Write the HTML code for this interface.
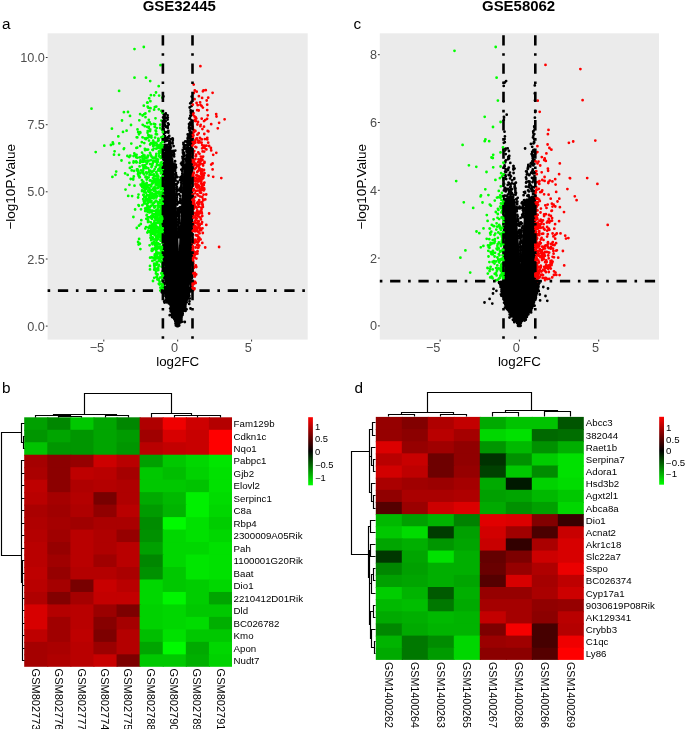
<!DOCTYPE html>
<html><head><meta charset="utf-8"><title>Figure</title>
<style>html,body{margin:0;padding:0;background:#fff}svg{display:block;will-change:transform}text{font-family:"Liberation Sans", sans-serif}</style>
</head><body>
<svg width="685" height="729" viewBox="0 0 685 729">
<defs>
<linearGradient id="lg" x1="0" y1="0" x2="0" y2="1"><stop offset="0" stop-color="#ff0000"/><stop offset="0.5" stop-color="#000000"/><stop offset="1" stop-color="#00ff00"/></linearGradient>
<clipPath id="ca"><rect x="47.6" y="33.3" width="260.1" height="306.3"/></clipPath>
<clipPath id="cc"><rect x="379.8" y="33.3" width="279.2" height="306.3"/></clipPath>
</defs>
<rect width="685" height="729" fill="#fff"/>
<text x="1.9" y="29.4" font-size="15.3">a</text>
<text x="353.6" y="29.4" font-size="15.3">c</text>
<text x="1.9" y="393.3" font-size="15.3">b</text>
<text x="354.6" y="393.3" font-size="15.3">d</text>
<rect x="47.6" y="33.3" width="260.1" height="306.3" fill="#ebebeb"/>
<g clip-path="url(#ca)">
<path d="M177.5 325.6L176.8 322.9L176 320.3L175.1 317.6L174.3 315L173.6 312.3L172.8 309.7L172 307.1L171.3 304.4L170.5 301.8L169.7 299.1L168.9 296.5L168 293.8L167.2 291.2L167.2 291.2L166.3 287.9L165.5 284.7L164.6 281.5L163.9 278.2L163.1 275L162.5 271.8L162.5 268.5L162.5 265.3L162.5 262L162.5 258.8L162.5 255.6L162.5 252.3L162.5 249.1L162.5 245.9L162.5 242.6L162.5 239.4L162.5 236.2L162.5 232.9L162.5 229.7L162.5 226.4L162.5 223.2L162.5 220L162.5 216.7L162.5 213.5L162.5 210.3L162.5 207L162.5 203.8L162.5 200.5L162.5 197.3L162.5 194.1L162.5 190.8L162.5 187.6L162.5 184.4L162.5 181.1L162.5 177.9L162.5 174.7L162.5 171.4L162.5 168.2L162.5 164.9L173.9 164.9L174.2 168.2L174.4 171.4L174.6 174.7L174.9 177.9L175.1 181.1L175.3 184.4L175.5 187.6L175.7 190.8L176 194.1L176.2 197.3L176.3 200.5L176.5 203.8L176.7 207L176.9 210.3L177.1 213.5L177.3 216.7L177.4 220L177.6 223.2L177.8 226.4L177.9 229.7L178.1 232.9L178.2 236.2L178.4 239.4L178.5 242.6L178.7 245.9L178.8 249.1L177.7 252.3L177.7 255.6L177.7 258.8L177.7 262L177.7 265.3L177.7 268.5L177.7 271.8L177.7 275L177.7 278.2L177.7 281.5L177.7 284.7L177.7 287.9L177.7 291.2L177.7 291.2L177.7 293.8L177.7 296.5L177.7 299.1L177.7 301.8L177.7 304.4L177.7 307.1L177.7 309.7L177.7 312.3L177.7 315L177.7 317.6L177.7 320.3L177.7 322.9L177.7 325.6ZM177.8 325.6L178.6 322.9L179.4 320.3L180.2 317.6L181 315L181.8 312.3L182.6 309.7L183.3 307.1L184.1 304.4L184.8 301.8L185.7 299.1L186.5 296.5L187.3 293.8L188.2 291.2L188.2 291.2L189 287.9L189.9 284.7L190.7 281.5L191.5 278.2L192.3 275L192.9 271.8L192.9 268.5L192.9 265.3L192.9 262L192.9 258.8L192.9 255.6L192.9 252.3L192.9 249.1L192.9 245.9L192.9 242.6L192.9 239.4L192.9 236.2L192.9 232.9L192.9 229.7L192.9 226.4L192.9 223.2L192.9 220L192.9 216.7L192.9 213.5L192.9 210.3L192.9 207L192.9 203.8L192.9 200.5L192.9 197.3L192.9 194.1L192.9 190.8L192.9 187.6L192.9 184.4L192.9 181.1L192.9 177.9L192.9 174.7L192.9 171.4L192.9 168.2L192.9 164.9L183.8 164.9L183.6 168.2L183.3 171.4L183.1 174.7L182.9 177.9L182.6 181.1L182.4 184.4L182.2 187.6L182 190.8L181.8 194.1L181.6 197.3L181.4 200.5L181.2 203.8L181 207L180.8 210.3L180.6 213.5L180.5 216.7L180.3 220L180.1 223.2L180 226.4L179.8 229.7L179.6 232.9L179.5 236.2L179.3 239.4L179.2 242.6L179 245.9L178.9 249.1L177.7 252.3L177.7 255.6L177.7 258.8L177.7 262L177.7 265.3L177.7 268.5L177.7 271.8L177.7 275L177.7 278.2L177.7 281.5L177.7 284.7L177.7 287.9L177.7 291.2L177.7 291.2L177.7 293.8L177.7 296.5L177.7 299.1L177.7 301.8L177.7 304.4L177.7 307.1L177.7 309.7L177.7 312.3L177.7 315L177.7 317.6L177.7 320.3L177.7 322.9L177.7 325.6Z" fill="#000"/>
<path d="M185.3 305.6h0M180.3 319.6h0M189.1 292.8h0M167 294.4h0M173.4 309.6h0M171.2 308.8h0M167.1 295.3h0M185.5 301h0M182.4 314.8h0M182.3 314.3h0M174.6 316.6h0M170.2 301.5h0M188.3 289.9h0M168.7 294.9h0M177.1 322.6h0M173.2 314h0M170.3 299.7h0M167.7 291.9h0M174.8 317.1h0M185.2 299.1h0M186.9 294.6h0M172.6 302.3h0M181.1 316.1h0M188.5 288.9h0M185.6 299.9h0M173 311.6h0M173.7 307.1h0M168.4 301.7h0M183.6 306.6h0M172.1 308.1h0M178.3 322.7h0M169.9 301.8h0M167.8 294.4h0M180.4 316.4h0M172.5 309.8h0M170 304.2h0M185.3 299.8h0M187.7 290.5h0M180.7 322.3h0M187.5 294.4h0M185.9 298.1h0M165.6 292.8h0M169.1 298h0M180.2 317.8h0M182.3 312h0M186.6 295.4h0M166.6 290.3h0M180.2 318.7h0M180.4 315.7h0M178.4 323.3h0M170.9 304.6h0M174.1 316h0M189.1 290h0M169.7 301.8h0M168.4 296.1h0M174.1 316.4h0M173.1 309.8h0M169.7 298.7h0M168.6 298.9h0M178.4 318.1h0M181.7 314.4h0M166.2 297.3h0M175.4 313.5h0M185.5 304.5h0M180.2 314.3h0M187.2 295.5h0M182.5 315.1h0M172.7 314.1h0M170.8 300.2h0M168.8 292.9h0M171.2 300h0M171.2 306.5h0M167.9 302h0M171.6 305.6h0M174.4 316.5h0M173.4 313.4h0M173.2 312.9h0M183.8 306h0M187.4 288.9h0M175.8 324.2h0M185.1 293.4h0M172.9 313.9h0M177.8 323.7h0M183.8 304.7h0M187.6 291.7h0M169.1 296.4h0M172.9 310.2h0M168.1 293.4h0M186.2 294.4h0M182.1 314h0M170.7 300.6h0M179.9 322.6h0M174.7 315.9h0M188.6 289.2h0M183.8 307h0M170.4 304.2h0M180.4 314.4h0M187.8 291.5h0M169.6 303.1h0M182.9 305.7h0M174.4 312.7h0M174.6 316.5h0M184.1 300.6h0M168.9 289.6h0M186.7 291h0M166.6 302.3h0M173.3 313.7h0M189.5 288.1h0M183.9 306.4h0M175.1 314.1h0M179.5 321.7h0M188 295.2h0M172 304.7h0M166.7 295.6h0M173.1 309.7h0M180.3 318h0M186.2 298.6h0M167.7 288.4h0M179.2 325.5h0M170.5 299.4h0M188.8 288.5h0M187 293.4h0M186.9 296.6h0M189.2 288.9h0M168.4 295.2h0M182.7 313.8h0M174.2 315.7h0M185.7 297.9h0M168.4 297.1h0M186.6 295.5h0M177.7 325.3h0M168.3 292.2h0M167.6 290h0M187.3 295.8h0M171.8 309.4h0M187.2 299.6h0M169.7 315.2h0M186.5 294.5h0M172.4 309.3h0M182.7 305.1h0M172.1 316.1h0M184.4 304.3h0M178.1 322.8h0M171.5 305h0M179.3 319.9h0M181.1 312.9h0M186.6 299.9h0M172.1 317h0M183.9 307.8h0M188.5 293.2h0M167 291.2h0M189.5 301.3h0M172 313.7h0M186 297h0M176.5 323.3h0M168.7 295.7h0M175.3 319.7h0M166.8 289.5h0M179.2 322.8h0M177.9 323.1h0M177.3 324.6h0M165.9 291.1h0M174.9 314h0M172.1 305.2h0M182.7 313.7h0M186.1 299h0M182 315.3h0M176.6 316.1h0M165.4 295.9h0M169.3 294.2h0M186.1 293.9h0M175.1 318.8h0M165.2 293.8h0M185.1 296.7h0M177.8 322.2h0M170.5 301.9h0M186 297.7h0M186.5 292.7h0M190.4 290.5h0M175.6 320.6h0M180.5 316h0M172.1 305.7h0M167.1 297.6h0M186.7 302.3h0M168.3 293.4h0M186.7 296.9h0M185.7 302.6h0M180.5 313.4h0M180.8 314.2h0M192.5 288.9h0M162.9 290.6h0M173 309.2h0M168 290h0M167 301.4h0M185 303.4h0M186.2 295.1h0M185.5 295.9h0M172.1 305.2h0M190.1 289.9h0M183.8 305.9h0M168.7 294.4h0M188.4 291h0M188.8 290.2h0M188 292.2h0M178.6 317.7h0M165.9 288.8h0M183 307.4h0M184 307.4h0M178.8 318.3h0M167.3 294.5h0M172 305.5h0M186.6 291.2h0M186.4 300.7h0M172.9 308.4h0M184.6 303.9h0M172.8 309.1h0M167.4 294.9h0M165.7 289.3h0M166.1 291h0M165.8 288.3h0M177.9 320.3h0M169.1 292.4h0M176.4 322.2h0M167.9 290.8h0M184.5 304.2h0M167.7 293.3h0M180.8 311.3h0M169.1 294.3h0M182.5 306.5h0M173 307.6h0M167.6 291.7h0M166.4 290.5h0M165.3 288.7h0M184.3 300.6h0M174.9 315.4h0M181.3 318.5h0M172.4 311.2h0M183.6 306.7h0M185.7 292.4h0M172.5 305.6h0M173.4 312.4h0M168.2 292.6h0M167.8 298.7h0M182.5 310.3h0M182.6 310.5h0M165.8 299.6h0M181.1 311.5h0M187.2 292.5h0M184.5 301h0M184.8 301.2h0M188.1 292.5h0M186.2 298.1h0M171.1 306.8h0M185.2 296.6h0M179.6 320.1h0M168.1 294.7h0M187.1 299h0M168.7 295.3h0M180.7 317.2h0M183.5 304h0M187.8 293.4h0M170 301.1h0M173 308.4h0M172.7 308.1h0M166.4 288.1h0M185.8 300.4h0M184 301.2h0M173.1 313.4h0M186.8 294.6h0M189.2 303.9h0M173.8 317.5h0M188.1 290.1h0M172.2 305.5h0M191.2 288h0M188.6 291.7h0M168 295.2h0M185 299.9h0M164.5 302.5h0M172.3 310.5h0M184.9 303.5h0M171.6 302.9h0M181.6 317h0M178.5 324.1h0M177.5 322.3h0M186 300.8h0M166.6 288.2h0M165.8 289.5h0M183 306.5h0M189.3 288h0M168 288.7h0M185 302.3h0M186.9 290.9h0M180.5 317.2h0M185.3 292.9h0M189.7 298.5h0M188.1 293.3h0M167.2 292.5h0M165.3 289h0M185.5 296.5h0M165.7 290.8h0M165.7 290.8h0M178 321h0M185.8 296.5h0M184.1 302.6h0M184.6 302.3h0M179.4 320.7h0M175.3 310.5h0M168.6 297.3h0M182.4 309.4h0M185.8 295.6h0M171 309.6h0M167.7 291.8h0M175.3 321.2h0M185.5 301.2h0M169 296h0M169.3 301h0M172.6 311.4h0M186.5 294.9h0M172.2 302.4h0M174.7 314.5h0M186.8 297.3h0M172.2 306.7h0M173.7 318.1h0M170.2 303.1h0M183.9 305.6h0M172.2 308.8h0M184.3 300.8h0M170.8 302.3h0M174.4 313.3h0M176.2 314.2h0M172.8 304h0M183.4 308.9h0M188.3 289.3h0M176.8 322.6h0M169 292.7h0M182.5 308h0M185.3 302.7h0M187.3 294.2h0M186.6 294.6h0M165.7 290.8h0M182.2 310.7h0M169.3 296.9h0M184.8 322h0M186.6 291.1h0M172.2 309.4h0M173.9 309.9h0M187.8 290.1h0M184.9 299.5h0M171.8 306.7h0M187.9 292.1h0M169.5 299.3h0M186.3 297.5h0M166.6 293.3h0M167.5 296.9h0M170.6 304.3h0M185.2 302.7h0M169 295.8h0M167.7 289.2h0M187.4 295.2h0M173.1 310.8h0M185.2 303.1h0M181.2 308.6h0M170.1 308.6h0M164.7 290.3h0M180.9 315.6h0M181.4 316.8h0M173.8 308.7h0M163.6 293.3h0M172.6 302.6h0M171.1 299.5h0M182.7 303.1h0M172.2 307.8h0M173.4 312.6h0M169.8 298.5h0M186.3 300.7h0M189.6 290.5h0M170.6 302h0M188.6 288.9h0M174.3 314.2h0M169.4 297h0M190.2 288.1h0M166 289.5h0M185 300.4h0M186.2 296.6h0M182.7 311h0M169.4 297.1h0M181.7 313.7h0M188.7 289.3h0M183.9 309.2h0M166 290.7h0M187.4 289.2h0M172.7 308.7h0M171.2 306.4h0M164.2 301.5h0M186 300.4h0M172.4 309.4h0M170 301.8h0M173.2 310.8h0M174.2 315.4h0M173.2 312.7h0M183.2 305.6h0M187.4 291.1h0M174.9 314h0M172.2 312.7h0M171.9 307.3h0M180.3 318.5h0M168.6 296.1h0M188.2 291.6h0M183.3 304.8h0M187 297.1h0M168.8 295.2h0M184.6 307.6h0M186.4 297.2h0M167.9 293.5h0M187.9 291.3h0M187.9 291.7h0M170.1 300.6h0M165.6 290.5h0M170.9 310.4h0M190.5 308.5h0M167 291.3h0M189.4 288.8h0M175.3 315.7h0M187 296.4h0M179.8 317.6h0M185.7 292.2h0M175.2 319.8h0M188.4 290.2h0M183.7 305.3h0M173.5 312.4h0M186.8 296.4h0M185.4 306.9h0M186.6 296.6h0M183.6 308.7h0M168.6 294.3h0M173.3 312.7h0M174.4 314.2h0M184.2 303.5h0M184.8 299.2h0M183.9 302.3h0M172.3 309.3h0M179.8 321h0M186.6 297.6h0M184.7 300.4h0M171 304.4h0M168.2 288.7h0M170 303h0M175.5 318.7h0M187.7 293.3h0M183.2 311h0M183.3 306h0M170.6 305h0M185.4 298.7h0M167.8 294.7h0M168.7 294.8h0M188.4 291.2h0M188.3 295h0M181 313.1h0M176.7 320.9h0M170.3 300.4h0M167.4 292.6h0M191.4 288.1h0M183.7 304.1h0M171.5 299h0M181.4 311.9h0M173.8 308.5h0M170.4 303.9h0M179 321.6h0M174.3 311.9h0M184.7 301.4h0M183.3 301.3h0M186.3 297.5h0M185.4 298h0M166.1 290.7h0M170.9 306.3h0M183 305.4h0M183.9 303.8h0M171.1 304.1h0M183.3 309.4h0M168.4 290.1h0M186.3 297h0M185.2 306.2h0M188.5 289.8h0M167.1 291.7h0M179.3 320.5h0M182.3 307.1h0M188.1 294h0M186 298.9h0M182.4 310.9h0M189.6 288.4h0M167.9 295.8h0M175.9 314.9h0M186.7 297.2h0M184.4 301.6h0M183.5 306.9h0M168.5 293.3h0M169.6 296.6h0M186.7 298.6h0M171.2 304.1h0M171.4 304.1h0M175.6 318.3h0M185.6 299.7h0M181.8 312.5h0M181.2 307.4h0M167.6 290.2h0M183.6 305.5h0M171.2 306.7h0M170.9 307.3h0M179.3 318.1h0M181.5 319h0M170.2 301.1h0M183.8 306.9h0M166.9 288.4h0M168.1 292.5h0M166.4 292.7h0M183.8 304.8h0M182.1 311.2h0M189.6 290.1h0M184.5 308.4h0M172.9 305.5h0M171.7 305.4h0M165.5 293.7h0M172.1 313h0M168.7 303.3h0M185.2 300.8h0M176.2 322.4h0M189.3 295.8h0M188.5 293.6h0M170.1 299.8h0M170.8 305.6h0M173.7 311.1h0M176.2 313.7h0M187 291.2h0M189.1 288.8h0M184.9 304.2h0M184.6 296.5h0M183.9 299.8h0M183 308.5h0M179.4 310.5h0M189.2 289.7h0M185.5 302.8h0M181.9 302.9h0M166 289.5h0M161.8 292.3h0M175.5 323.2h0M186.6 309.3h0M167.6 292h0M187.4 294.4h0M168.7 298.9h0M166.9 291.1h0M173.6 312.9h0M186.1 294.1h0M176.3 323h0M185.5 310.9h0M168 299.3h0M182.2 311.3h0M172.3 308h0M180 317h0M187.2 296.5h0M174.6 315.8h0M169.5 298.3h0M185.1 306.3h0M190 290.8h0M174.4 319.3h0M170.5 299.3h0M188.2 294.7h0M188.1 289.3h0M170.6 311.3h0M182.2 310.9h0M168.8 299.5h0M185.4 296.7h0M185.3 300.6h0M184.7 306h0M182.9 310.4h0M176.9 321.9h0M188.1 298.6h0M184.4 305.9h0M185.5 299.4h0M181.8 310.9h0M178.1 324.2h0M186.8 299.6h0M181.5 311.6h0M187.1 295.1h0M167.3 289.4h0M176.3 325.7h0M181.6 312.9h0M187.8 295.3h0M169.2 299.5h0M169.7 297.8h0M187.7 295.1h0M172.8 313.1h0M183.2 304.4h0M189.8 291.6h0M163.9 291.1h0M179.8 318.7h0M185.3 302.6h0M185.9 295.1h0M179.9 320.2h0M184.5 301.6h0M168.3 297.2h0M185.5 299.9h0M177.3 321.3h0M167.3 295.1h0M187 299.2h0M183.7 303.1h0M183.6 306.6h0M185.9 296h0M186.1 299.4h0M184 305h0M169.6 298.2h0M184.2 306.7h0M171.5 301.8h0M168 296.9h0M184.3 298.3h0M188.8 294.1h0M183.6 307.1h0M172 306.6h0M185.8 297h0M168 295.7h0M185.5 299.7h0M182.1 321.7h0M169.9 303.4h0M169.5 297.8h0M166.8 289.4h0M166.6 291h0M176.2 324.6h0M189 288.2h0M185.2 301.5h0M166.6 289.6h0M168.9 299h0M171.4 309.9h0M167.9 291.2h0M171.3 304.4h0M177.1 324.2h0M179.6 321.7h0M166.1 292.4h0M168.5 295.7h0M173.9 314.5h0M184.7 306.3h0M172.4 304.8h0M172.8 307.6h0M188.4 289.2h0M188.7 289.6h0M170.8 304h0M185.5 298.6h0M166.5 294.5h0M169.1 295.6h0M186.1 297.6h0M166.2 293.4h0M167.2 293.7h0M168 294.1h0M167.9 294.9h0M189.6 289h0M185.8 299.1h0M189.3 289.5h0M180.9 313.2h0M182.5 310.5h0M171.8 301.5h0M167.9 291.1h0M182.1 308.1h0M167.7 296.6h0M181.3 313.1h0M169.7 300.5h0M185.4 297.5h0M175.9 319.7h0M167.2 290.6h0M168.8 294.2h0M167 293.4h0M169.6 294.4h0M181.7 315h0M188.5 298.1h0M168 291.7h0M178 325.4h0M172.4 303.9h0M167 290.7h0M184 299.8h0M182.5 312.2h0M174.4 314.1h0M172.4 302.9h0M187 291.3h0M184.5 298.6h0M176.3 320.7h0M186.5 299.3h0M172.7 308.5h0M172.6 305.6h0M176.5 319.8h0M170.1 300.9h0M185.5 292.8h0M170.7 304.5h0M167.9 294.9h0M173.4 304.2h0M174.2 318.4h0M173.6 307.4h0M182.4 309.8h0M184.9 305.2h0M174.5 310.6h0M172.8 304h0M175.1 314.5h0M186.9 292.3h0M186.7 295.5h0M177.3 320.8h0M177.8 325h0M177.2 322.9h0M177.7 322.2h0M177 324.8h0M177 326.1h0M177.2 324.7h0M178.5 322.8h0M176.8 324.5h0M177.1 325.4h0M177.8 325.1h0M177.3 323.2h0M176.9 326.1h0M178.4 325.7h0M177.1 325.5h0M177.7 323.6h0M177.5 325.7h0M178 324.5h0M177.5 325.7h0M178 326h0M177.7 324.9h0M177.1 323.6h0M177.3 325.3h0M178.3 323.6h0M177.6 325.7h0M177.1 325.7h0M177.9 325h0M177.7 325.3h0M178 325.9h0M178 325.5h0M178 325.6h0M175.9 325.5h0M177.9 324.5h0M177.8 323.3h0M178 322.9h0M178 322.4h0M178.4 325.6h0M177.6 323.9h0M177.3 323.6h0M176.5 325.6h0M176.8 325.3h0M177.3 325.3h0M176.2 325.2h0M177.3 324.6h0M177.2 324.8h0M178.3 323.7h0M177.6 325h0M178.2 326h0M177.9 325.6h0M177.3 324.6h0M176.9 325.2h0M177.6 324.7h0M178.3 324.6h0M177.4 324.7h0M177.4 325.3h0M176.8 324.6h0M177.3 324.6h0M177.6 325.7h0M179.1 323.6h0M177.2 324.7h0M163.6 188.9h0M192.2 286.7h0M192.4 248.5h0M163.3 173.8h0M191.9 272h0M163.1 286.6h0M164.3 185.4h0M163.5 190.6h0M191.7 228.5h0M192.1 275.3h0M191.3 254.2h0M163.9 235.1h0M191.8 169.6h0M163.1 264.2h0M164.5 207.8h0M191.4 201.9h0M190 181.3h0M191.7 206.1h0M163.9 243.9h0M163.8 235.4h0M164.2 231.2h0M192 216.9h0M163.2 224h0M191.7 278.2h0M192.3 193.6h0M191.5 245.2h0M163.2 212.3h0M191.1 251.9h0M163.4 234.7h0M164 165.5h0M166.2 289.4h0M190.8 210.5h0M163.8 267.4h0M163.1 170.7h0M191.6 187.6h0M164.3 186.1h0M164.3 185.4h0M163.3 247.8h0M163 227.3h0M163.3 174.8h0M191.2 231.7h0M169 172.5h0M189.8 188.4h0M191.6 229.5h0M164 224.6h0M192.3 225.5h0M164.6 257.3h0M167.4 247h0M191.3 237.2h0M191.8 223.9h0M163.2 180.6h0M191.9 230h0M163.8 220.7h0M163.2 201.9h0M163.5 190.3h0M191.6 168.4h0M191 197.9h0M165 215.6h0M191.8 200.7h0M192.1 275.8h0M164 197.9h0M190.4 263.5h0M163.3 180h0M163.2 181.1h0M163.4 211.9h0M192.4 172.8h0M163.3 284.7h0M163.1 281.6h0M192.2 228.6h0M191.2 266.1h0M190.7 288.4h0M192.1 170h0M163.6 238.3h0M163.3 185.1h0M190.7 255.1h0M163.8 211.4h0M191.5 282.5h0M191.3 213h0M191.8 202h0M163.2 213.3h0M192.3 230.5h0M163.2 198h0M163.5 262.7h0M164.6 206h0M163.5 255h0M191.7 282.9h0M163.8 243.9h0M191.1 196.2h0M169 270.3h0M163.2 193.3h0M163.8 246.1h0M163 229.1h0M192 282.4h0M192.3 270.1h0M192.3 207.1h0M163 175.8h0M191.7 257.5h0M163.4 204.3h0M192.4 180.1h0M190.8 184.4h0M189.7 171.1h0M163.4 277.5h0M191.9 206.8h0M163 254.4h0M190.9 285.8h0M191.4 228.2h0M163.8 170.3h0M191.8 247.6h0M191.1 258.1h0M163 166.1h0M164.7 206.4h0M163 271.3h0M163.2 288.6h0M191.5 280.8h0M163.3 280.8h0M164.6 179.3h0M192.4 202.5h0M192.4 268.2h0M191.6 236.5h0M192.4 234.5h0M163.7 182.1h0M164 168.3h0M163.3 290.1h0M191.9 287.8h0M164.2 213.8h0M191.1 284.3h0M163.5 238.9h0M191.8 210.7h0M167.6 226h0M192.1 267.7h0M163.2 255h0M163.8 223h0M192 271.9h0M192.4 173.8h0M163.9 259.2h0M191.7 184.5h0M191.3 266.4h0M191.7 228.1h0M189.9 187.7h0M164.2 207.3h0M192.3 274.1h0M163.5 258.6h0M191.7 242.8h0M164.8 227.4h0M192.2 169.3h0M190.9 247.1h0M163.4 245.6h0M192.1 223.3h0M192.4 262.4h0M163.6 186.3h0M191.8 291.2h0M192 196.4h0M190.4 175.8h0M164 249.4h0M192.3 194.7h0M192 199.5h0M163.2 192.9h0M191.2 207.2h0M163.8 222.2h0M163.9 255.4h0M167.6 237.5h0M163.7 276.6h0M191.5 210.9h0M163.8 226.2h0M191.4 282.8h0M191.9 277.2h0M192.3 249.8h0M191.8 266.4h0M191.7 266.4h0M190.8 193.5h0M191.9 249.8h0M190.9 283h0M163.2 175h0M163 170.8h0M190.9 186.8h0M191.7 234.1h0M163.4 169.4h0M164.2 176.6h0M163.4 209.4h0M191.1 203.2h0M191.8 200.1h0M192.2 222.1h0M167.5 180h0M192.3 182.1h0M165 196.2h0M163 201.9h0M191.3 232.4h0M163.9 248.6h0M163.1 169.2h0M163.8 218.1h0M163.7 172.5h0M166 263.1h0M192.4 270.3h0M190.5 198.1h0M192.4 207h0M164.3 238.7h0M163.2 225.8h0M165.4 173.9h0M164.8 205.3h0M163.2 221.7h0M192.2 255.8h0M192.1 269.8h0M190.5 243.3h0M190.5 252.7h0M191.2 202h0M192.3 165.9h0M192.2 182.5h0M163.1 255.6h0M164.2 253.2h0M163.2 215.7h0M192.2 184h0M163 252.7h0M192.3 255.7h0M191 230.8h0M164.4 193.8h0M164.1 233.7h0M164.3 289.5h0M163.5 204.5h0M191.7 179.1h0M163.2 203.8h0M162.9 287h0M164.2 256.9h0M162.9 225.1h0M192 228.5h0M190.4 281.2h0M190.9 255.2h0M163.4 240h0M163.2 227.6h0M163.3 167h0M163 200.6h0M164 224.5h0M163.5 290h0M162.9 287.1h0M163.3 193.4h0M165 219.7h0M164 205.9h0M190.7 275h0M191.3 168h0M190.8 226.3h0M163.9 218.7h0M191.8 205.1h0M190.3 211.3h0M164.1 191.8h0M192.3 264.7h0M165.2 283.4h0M163.1 237.8h0M163.5 192.7h0M191.4 195.9h0M191.9 242.1h0M192.4 196.9h0M191.6 193.3h0M163.9 190.8h0M191.3 169.8h0M164.5 232.8h0M191.4 199h0M163.9 175.6h0M163.6 254.5h0M163.2 166.9h0M190.5 248.5h0M163.7 207.2h0M167.5 273.8h0M163.1 267.2h0M186.9 279.7h0M191.3 210.6h0M192 287.9h0M191.4 230.2h0M167.8 197.3h0M164 256.9h0M166.6 266.8h0M192.4 169.6h0M163.7 265.5h0M192.1 217.3h0M167.2 232.7h0M192.4 176.8h0M192.2 211.5h0M163.9 230.3h0M164.6 259.1h0M162.9 185.4h0M164.3 251.6h0M190.9 188.8h0M163.8 203h0M192.2 221.3h0M192.4 165.4h0M163 209.8h0M190.9 215.7h0M191.6 202h0M163.3 270.1h0M163.7 235.7h0M164 291.2h0M163.5 274h0M164.8 286.8h0M192.2 218.8h0M163.6 250.1h0M192.4 269.3h0M163.6 240.7h0M163.6 171.2h0M163.9 284.1h0M192.4 277.1h0M165.2 180.5h0M163.4 263.7h0M174.1 154.2h0M175.9 172.9h0M178.9 220.6h0M177.8 213.8h0M178.9 227.6h0M184.1 154.7h0M180.3 195.8h0M184.1 154.9h0M182.1 179.5h0M182.7 158.6h0M183.4 162.3h0M180.4 191.2h0M177.5 212h0M180.3 198.7h0M175.8 184.7h0M172.5 138.4h0M180.1 209h0M182.9 164.3h0M179.6 212h0M182.6 174.6h0M174.6 164.4h0M178.9 237.4h0M181.9 165.1h0M173.4 151.1h0M183.8 147.5h0M175.3 150.6h0M176.8 199.5h0M178.3 222.9h0M177.3 203.5h0M182.8 149.9h0M181.9 170.3h0M176.4 187.3h0M178.7 236.9h0M178.9 230.3h0M181.6 182.3h0M173.5 150.9h0M182 176.8h0M177.2 201.6h0M178.9 236.9h0M179.2 216.5h0M175.7 176.3h0M180.3 208.4h0M175.9 184.1h0M178.9 233.5h0M181.8 183.8h0M180.6 191.7h0M178.9 235.3h0M184 155.9h0M183.8 159.2h0M178.4 226h0M176.2 175.2h0M173.7 152.1h0M181.1 186.5h0M181.7 162.7h0M178.2 225.2h0M178.5 231.5h0M178.5 214.1h0M175.1 161.2h0M177.4 208.7h0M184.1 153.6h0M178.9 230.8h0M180.8 189.5h0M176.5 194.1h0M182.4 156.8h0M182.2 170.9h0M181 163.6h0M177.5 177.1h0M178.6 221.8h0M183.6 161.9h0M183.3 165.9h0M175.8 164.8h0M176.6 191.8h0M176.9 195.4h0M178.9 222.8h0M174.1 156.4h0M178.9 194.2h0M172.5 142.6h0M178 210.5h0M176.3 189.4h0M179.5 202.5h0M175.7 177.1h0M185.3 141.4h0M179.2 215.4h0M180.5 199.2h0M178.9 208.1h0M178.9 228.1h0M179.1 233.9h0M172.8 138.8h0M177.1 204.6h0M174.6 167.2h0M183.5 159.6h0M175.4 173.8h0M178.4 211.1h0M175 170.8h0M184.7 145.9h0M181.1 192h0M184.6 148.8h0M182.9 151.9h0M183 160.8h0M174.6 168.3h0M172.6 142.1h0M180.9 187.6h0M173.6 146.1h0M178.9 228.7h0M174.7 167h0M178.2 225.7h0M180.8 200.7h0M181.2 179.3h0M182.6 168.6h0M181.3 169.6h0M178.1 219.7h0M178.4 228.6h0M179.7 223.3h0M181.9 176h0M178.9 219.7h0M184.1 146.4h0M175.2 169.9h0M180.5 207.5h0M175.7 174.8h0M178.9 230.2h0M180.4 177.4h0M178 222.1h0M175.1 174.6h0M180.4 209.7h0M177.9 182.5h0M183 167.7h0M177.9 215.6h0M178.5 231.7h0M179.4 223.3h0M183.4 154.2h0M183.4 142.9h0M182.1 180.2h0M178.9 229.1h0M175.4 178h0M177.5 203.8h0M179.1 220.3h0M183 163.3h0M173.7 151.5h0M181.5 184.4h0M182.2 180.4h0M172.6 143.4h0M178.8 237.2h0M183.6 152.3h0M184.8 145.1h0M183 153.1h0M181.1 182.7h0M184.2 148.9h0M176.6 188.1h0M180.3 200.9h0M181.7 188h0M178.9 233.2h0M178.9 234.5h0M181.5 185.9h0M181.4 178.9h0M178.6 230.6h0M175 161.6h0M179.2 222.5h0M177.9 216.3h0M181.5 190.2h0M183.2 160.5h0M181.5 188.9h0M184 148h0M183.5 162.2h0M177.9 181.6h0M174.3 151.1h0M180.8 203h0M180.1 179.9h0M182.3 173.5h0M178.7 228.4h0M179.9 211.3h0M172.8 139.9h0M180.4 207.1h0M184.5 147.1h0M178.9 232.4h0M179.8 212.6h0M177.6 214.4h0M178.9 237.3h0M175.2 165.5h0M178 214.2h0M181.9 179.3h0M178.9 227.9h0M175.6 180.5h0M179.8 188.3h0M177.3 190.6h0M183.6 159h0M179.9 202.6h0M175.7 166.4h0M183.4 157.3h0M178.9 213.2h0M180.4 207.9h0M175.6 176.6h0M178 219.3h0M178.9 237h0M182.3 177h0M176.1 167.5h0M178.9 226.8h0M182.2 180.8h0M178.3 190.3h0M176.8 186.7h0M183.5 144.4h0M178.9 233.2h0M178.9 219.1h0M178.5 229.3h0M176.4 175.9h0M173.5 151.8h0M176.8 184.1h0M178.9 234.3h0M176.4 187.5h0M178.9 226.5h0M178.4 228.9h0M180.5 207.3h0M173.6 152.9h0M175 168.3h0M172.4 139.6h0M177.4 189.6h0M178.9 219h0M179.9 201.4h0M178.9 229.1h0M177 197.7h0M182.2 177.6h0M171.7 162.4h0M164.4 163.5h0M191.3 164.4h0M192.2 133.7h0M187.1 149.8h0M190.2 103.3h0M163.1 126.6h0M172 166.7h0M186.4 160.9h0M187.9 147h0M167.2 156.7h0M191.2 138.1h0M185.3 168.6h0M188.2 162.8h0M168 137.7h0M163.4 165.7h0M167 153.6h0M168.8 165.5h0M168.9 153.6h0M188.1 163.5h0M170.6 165.4h0M190.7 134.6h0M169.2 135.9h0M167.3 146.5h0M190.7 152.8h0M189.8 153.7h0M189.2 156.7h0M190.5 163.3h0M172.3 166.6h0M167.6 115.3h0M167.7 126.1h0M189.6 142.7h0M190.4 122.3h0M188.2 160.9h0M163.4 96.4h0M191 148.3h0M190.4 151.9h0M165.3 159.5h0M185.4 164.5h0M169.9 166.1h0M168.7 153.8h0M167.3 165.1h0M189.7 144.9h0M167.8 170.2h0M164.6 156.5h0M189.9 166.6h0M189.1 134.6h0M192.1 114.4h0M163.9 146.8h0M165.1 117.9h0M190.7 143.3h0M189.1 123.8h0M167.1 151.3h0M164.9 124.7h0M191.9 158.3h0M190.1 164h0M185.6 159.2h0M189.2 167.4h0M163.1 117.4h0M171.5 164.7h0M167.2 171.3h0M190 132.6h0M188.7 162.9h0M191.7 164.6h0M191.2 153.4h0M169 151.7h0M164.3 119.8h0M170.2 161.5h0M168.1 169.6h0M170.8 159.1h0M164.6 153.4h0M187.1 152.4h0M186.6 151.5h0M172.2 159.9h0M191.2 147h0M165.5 159.6h0M165.5 153.1h0M163.7 168.9h0M189.9 165.2h0M187.6 138.3h0M189.1 124.3h0M186.6 150.5h0M186.6 155.7h0M171.6 162.1h0M167.2 117.7h0M169.1 148.9h0M165.7 137.8h0M168.9 168.6h0M165.1 160.2h0M189.6 124.1h0M192.4 132.7h0M190.3 152.5h0M189.4 118.6h0M167.4 131.9h0M187.8 160.6h0M190.5 165.2h0M190.6 110.3h0M163.8 146h0M165.8 150.6h0M191.9 122.4h0M169.8 163.4h0M163.5 155.3h0M171.9 160.5h0M190.1 161.1h0M172.2 170.8h0M191.7 159.6h0M167.7 127.9h0M190.3 164.8h0M187.3 170.6h0M164.7 124.6h0M189.5 151.7h0M170.7 168.3h0M188.1 135.1h0M191.7 168.3h0M168 150.7h0M169 152.6h0M165 169.8h0M165.4 161.1h0M190.9 165.8h0M190.5 158.2h0M191.7 139.6h0M164.4 146.9h0M167.3 169.3h0M191.5 120.2h0M192 125.2h0M168 123.3h0M169.2 163.3h0M191.7 96.6h0M190 154.6h0M165.8 113.5h0M167.7 159.4h0M169.3 162.2h0M169.8 143.9h0M170.5 159.9h0M163.3 165.9h0M171 168.4h0M170.7 162.7h0M187.9 170.2h0M187.7 140.3h0M170.5 170.9h0M163.7 157.3h0M188.1 170.6h0M167.6 157.4h0M190.5 139.6h0M191.2 155h0M165.5 169.6h0M165.5 157.6h0M187.9 167.8h0M189.5 160.3h0M172.3 165.2h0M190 117.8h0M167.8 156.6h0M190.9 171.5h0M168.4 148.6h0M189.7 107.5h0M190.1 162.2h0M168.1 137.2h0M169.1 151.8h0M191.7 159.6h0M165.6 132.5h0M192 170.4h0M192.4 163h0M186.9 145.2h0M164.7 145.9h0M189.5 168.3h0M186.5 151.5h0M191.6 106.1h0M188.3 169.2h0M165.5 147h0M172 168.5h0M186.6 158h0M189.7 165.8h0M167.5 154.3h0M187.4 148.1h0M167.2 159h0M190.7 169h0M165.5 132.3h0M165.4 161.5h0M189 128h0M163.3 164.1h0M185.9 171.1h0M172.4 171.1h0M189.9 168.2h0M164.5 170.5h0M164.1 154.1h0M188.7 168.2h0M188.1 169.2h0M189.7 169.4h0M171.3 158.1h0M191.2 115.5h0M172 159h0M172.5 165.1h0M167.8 168h0M190.9 112.9h0M188.1 169.5h0M170.7 167h0M191.3 144.4h0M167.4 168.7h0M170.2 161.3h0M190.7 112.1h0M190 158.3h0M192.1 150h0M164.8 165.6h0M186.5 170.6h0M171.1 156.7h0M165.8 149h0M172.1 166.4h0M190.7 159.7h0M185.4 169.6h0M170.4 171.6h0M171.2 155.6h0M172.7 168.7h0M170.1 155.6h0M187.1 170.9h0M165.4 167.6h0M168 154.4h0M191.6 156.4h0M165.7 121.3h0M190.1 123.2h0M165.4 147.6h0M189.5 157.3h0M188 170.1h0M191 132.5h0M190.7 168h0M191.4 157.7h0M187.7 150.8h0M190.3 135.8h0M189.6 149.2h0M190.9 167.7h0M168.4 131h0M170.4 163.5h0M190 165.4h0M164.2 163h0M164.1 138.7h0M186 158.6h0M168.8 164.2h0M188.7 153.3h0M190.6 158.1h0M188.7 167.3h0M187.3 158.5h0M172.8 166.9h0M191.9 165.2h0M191.4 167.8h0M165.7 139.4h0M167.1 163h0M164.9 120.8h0M169.6 164.5h0M188.5 149h0M168.3 162.8h0M168.5 137.9h0M167.8 161.1h0M189.7 128.9h0M168.5 155.3h0M185.3 167.8h0M190.7 149h0M190.2 162.7h0M164.5 171.5h0M171 163.6h0M165.7 126.8h0M190.5 161.4h0M165.5 170.8h0M189.8 148.2h0M188.8 167.4h0M192.3 166.5h0M189 159.5h0M192.2 165.5h0M168.9 171h0M170.4 163.4h0M190 131.6h0M165.1 159.8h0M167.8 149h0M164.2 131.8h0M191.1 128.1h0M189.5 164h0M190.4 162.2h0M170.7 168.9h0M170.2 153.6h0M164.5 149.3h0M172.3 166.9h0M171.7 158.4h0M185.4 171.4h0M169.7 170.6h0M172.3 170.7h0M170.5 154.5h0M189.8 168.2h0M190.3 115.6h0M168.1 149.4h0M167.4 155.2h0M192.3 111.4h0M189.7 134.2h0M167.8 117.7h0M191 150.9h0M188.5 138.5h0M164.8 159.1h0M169.9 143h0M171.5 151h0M164.1 168.1h0M190.8 123.9h0M172.1 167.5h0M188.5 144.4h0M190.6 171.3h0M163.9 159.9h0M185.8 167.9h0M189.5 169.1h0M170.7 158.1h0M168.1 167.7h0M186.7 162.9h0M187.6 143.6h0M187.9 169.4h0M189.9 165.7h0M167.4 145h0M167.7 158.4h0M189.8 130.6h0M189.6 142.9h0M169.7 141.2h0M167.6 138.9h0M187.2 145.7h0M170.6 148.1h0M171 169.7h0M185.1 166.9h0M186.1 167.5h0M189.2 150.2h0M172.6 166.1h0M163.1 150.9h0M190.3 156.8h0M169.9 154.7h0M165.2 137.6h0M171.5 170.8h0M163 151h0M189.9 169.3h0M167.1 126.4h0M188.9 165h0M188.8 155.3h0M164 158.2h0M165.6 146.8h0M171 154.4h0M171.7 161.9h0M163.7 114.5h0M187.9 158.2h0M190.3 133h0M167.6 168.4h0M187.4 167.2h0M165 165.2h0M165.3 156.7h0M187.1 146.2h0M164.5 115.8h0M191.9 158.9h0M189.5 165.1h0M187.4 157h0M187.6 160h0M164.1 159.7h0M190.5 168.4h0M170 157.7h0M190.2 145.2h0M189.3 141.1h0M164.3 152.8h0M171.2 152.9h0M172.1 159.5h0M162.9 153.7h0M189 134.9h0M187.4 158.8h0M191.1 164.2h0M191.8 138.4h0M190.6 150.4h0M187.2 155.1h0M170.1 156.1h0M170.7 158.9h0M170.5 139.1h0M187.1 142.2h0M169 168.7h0M191.5 102.7h0M171.6 165.5h0M186.5 148.5h0M188.3 141.2h0M171.8 165.2h0M187.9 137.5h0M188.6 143.2h0M170.3 161.3h0M186.7 155.3h0M185.7 168.9h0M172.8 170.4h0M188.9 169.5h0M172.1 165h0M190.7 161h0M191.8 144.5h0M187.7 150.9h0M187.9 149.4h0M165.1 162.3h0M168.1 167.9h0M170.9 147.7h0M163.3 139.8h0M186.9 145.7h0M191.5 102h0M188.8 135.8h0M164.8 153.1h0M169.7 141.3h0M189.5 168.7h0M168.9 171.6h0M169.1 164.6h0M190 144.2h0M169 166.9h0M170.2 162.2h0M168.4 156.9h0M185.9 170.2h0M187 152.6h0M167.9 167.2h0M190.5 133h0M189.7 142.4h0M189.4 168.3h0M190 170.7h0M189 138.3h0M163.1 170h0M169.4 148h0M170.5 164.6h0M170.6 169.9h0M172.6 166.8h0M192.4 149h0M191.2 164.2h0M192.2 167.7h0M189.4 153.7h0M163.6 118.2h0M164.2 139h0M186.8 165.3h0M164.7 115.9h0M185.1 171.2h0M164.7 170.1h0M188.2 162.1h0M164.4 169.8h0M167.2 159.8h0M189.9 165.6h0M189.1 137.2h0M190.6 168.2h0M187.7 151.7h0M189.6 134.6h0M165.8 166.2h0M165.4 170.3h0M172.1 165.5h0M191.9 142.7h0M170.1 151.8h0M191.4 171.5h0M189.8 163h0M163 121h0M171.5 158.1h0M165.6 141.2h0M189.5 155.9h0M171.2 166.1h0M190.8 141.5h0M189.2 161.2h0M164 155h0M191.3 150.2h0M189.4 130.4h0M188.1 160.1h0M170.6 166.2h0M164.9 155.5h0M164.3 164.3h0M191 146.2h0M187.7 134.4h0M167.4 162.1h0M172.7 168.5h0M163 167h0M163.9 169.1h0M169.5 163.9h0M187.9 167.5h0M185.6 170.5h0M189.6 169.6h0M190.5 167.3h0M165.2 161.7h0M187.4 148.2h0M190.5 144.7h0M189.8 168.6h0M164.1 141.9h0M171.8 155.2h0M189.1 166.7h0M169.4 152.6h0M189.8 163.8h0M189.7 165.2h0M190.2 131.3h0M192.2 150.2h0M167.4 170.1h0M187.9 161.9h0M192 165.7h0M188.2 159.9h0M164.1 131.3h0M165.1 166.4h0M189.2 126.6h0M169.6 162.4h0M169.9 152.9h0M163.2 145.6h0M168.8 161.8h0M163.5 129.8h0M164.6 119.7h0M164.9 161.8h0M169.3 143h0M168.6 149.2h0M164.5 169.3h0M165.5 166.6h0M163.6 166.2h0M190.4 170.7h0M165.5 156.1h0M164.4 122.4h0M168.3 132.7h0M186.4 161.9h0M167.8 171h0M165.8 146.7h0M191.3 165.1h0M187.3 162.4h0M187.5 159.3h0M163.4 141.6h0M167.5 140.6h0M168.4 160.8h0M165 136.2h0M171.9 155.6h0M171.5 170.8h0M191.8 146.4h0M170 143.6h0M163.6 169.6h0M163.6 163.9h0M168.7 124.4h0M167.7 152.2h0M169.3 150.7h0M165.2 145h0M192.1 135.4h0M187.3 171.3h0M170.9 156.3h0M163.4 159.5h0M191.3 125.1h0M163.7 129.1h0M189.3 170.9h0M185.5 170.9h0M188.7 155.9h0M190.2 168.1h0M170.2 169h0M190.4 133.5h0M170.3 151.3h0M190.5 170.5h0M171.1 166.6h0M187.8 166.9h0M164.5 148.2h0M186.3 170.5h0M188.9 166.1h0M190.8 163.5h0M167.3 170.2h0M185.4 169h0M170.4 145.7h0M164.7 154.6h0M172 161.4h0M170.4 150.9h0M186 158.7h0M167.6 119.6h0M190.6 156.7h0M170.2 166h0M185.1 166.4h0M190.5 168.5h0M167.2 152h0M168.2 169.8h0M190.5 154.5h0M167.2 163.6h0M186.6 166h0M172.5 163h0M188.2 168.5h0M184.9 167.9h0M169 161.2h0M163.9 133.8h0M186 164.7h0M165.8 171.1h0M167.5 166.3h0M164.2 163.5h0M168.4 171.4h0M189.8 162.5h0M164 122.8h0M189.6 149.8h0M170.3 155.6h0M163.5 170.4h0M189.7 152.4h0M170.2 155.7h0M164.3 169.8h0M189.7 149.1h0M190 133.9h0M164.8 149.4h0M189.2 160.7h0M165.7 157.3h0M191.3 168.9h0M172.5 164h0M165.1 166.5h0M191.8 160.1h0M164 140.1h0M162.9 121.2h0M169.3 171.4h0M187.5 157.6h0M169.7 166.3h0M185.1 168.2h0M190.6 165.4h0M186.4 161.7h0M164.1 166.8h0M192.4 141.8h0M168.2 146.7h0M165 163.6h0M169.9 159h0M192.4 137.7h0M163.6 164.3h0M165.8 166.2h0M189.5 169.8h0M172.6 164.9h0M192.2 165.6h0M184.7 169.2h0M192 133.4h0M168.6 165.1h0M192.4 159.2h0M188.1 171.1h0M188.1 161.9h0M165.6 150.1h0M165.2 167.2h0M190.6 148.4h0M185.1 166.7h0M170.4 153.1h0" stroke="#000" stroke-width="2.8" stroke-linecap="round" fill="none"/>
<path d="M157.5 161.8h0M156.9 174.8h0M139.1 238.9h0M155.9 246.2h0M161.7 283.8h0M156.6 263.2h0M161.6 219.9h0M161.4 150.1h0M136.4 147.9h0M142.5 170.6h0M160.8 143.3h0M158 221.2h0M154.1 242.3h0M149.4 111.2h0M161.9 180.1h0M161.8 219h0M139.6 166.4h0M160.8 237.7h0M154.7 126.8h0M155.7 264.5h0M155.7 227.9h0M158 210.9h0M162.4 211.5h0M161.3 261.9h0M153.6 161h0M139.1 172.3h0M148.1 199.2h0M157.3 174.3h0M140.8 224h0M147.9 155.6h0M161.1 229.1h0M156.3 252.8h0M146.1 210.2h0M158.1 211.1h0M129.4 184.8h0M154.6 169.3h0M161.3 120.6h0M158.8 265h0M161.4 277.5h0M143.5 187.8h0M158.3 138.7h0M159 151.8h0M151.1 205.8h0M156.9 212h0M157.4 214.3h0M130 115.9h0M162.6 210.1h0M140.6 184.7h0M154.2 258.3h0M147.7 156.1h0M155.1 206.1h0M149 212.3h0M152.6 213.9h0M160.9 205.8h0M149.3 170.3h0M161.7 167.9h0M162 235.4h0M162.9 266.4h0M146.1 227.1h0M162.8 191.2h0M157.8 188.2h0M154.6 268.3h0M146 168.2h0M139 225.7h0M160.9 145.4h0M152.5 211.2h0M150.4 196.9h0M152.9 233.7h0M161.7 231.5h0M156.4 197.1h0M116.2 171.6h0M152.4 164.7h0M161.5 232.3h0M156.9 257.6h0M133.2 178.7h0M147.5 137.9h0M148 222h0M162.3 218.9h0M156.3 219.7h0M161.9 182.7h0M134.3 153.4h0M162.6 242.9h0M153 178h0M155.6 130.6h0M141 170.3h0M155 234.7h0M154.5 266.9h0M154.2 196.5h0M157 134.3h0M144 160.4h0M150.2 130h0M152.9 215.1h0M160.4 194.9h0M157.1 235.9h0M138.1 171.7h0M161.6 206.8h0M154.5 234.7h0M159.7 215.7h0M159.3 170.8h0M143.3 156h0M140.4 160.4h0M155.6 161.5h0M151.2 240.2h0M161 146h0M159.5 236.8h0M160.1 248.4h0M157 162.7h0M161.2 224.1h0M132.1 196.1h0M141.3 220.2h0M142.4 205.2h0M154.2 277.8h0M156.3 154h0M146.2 138.6h0M150 207.4h0M142.5 137.3h0M144.5 155.4h0M162.8 139.5h0M144.7 126.2h0M159.3 253.3h0M136.2 157.3h0M151.3 202.4h0M143.3 159.8h0M146.3 207.9h0M149.2 98.3h0M145.5 117.2h0M146.5 195.8h0M153.9 174.3h0M151.6 184.3h0M146.6 183.1h0M159 151.3h0M161.8 240.7h0M156.8 261.8h0M154.3 142.3h0M156.2 178.7h0M155.6 216.2h0M153.8 226.7h0M162.5 264.6h0M146.8 208.2h0M162.4 276.2h0M153.2 188.6h0M154.3 182h0M155.9 227h0M160.8 147.9h0M151 160.2h0M159.1 186.6h0M158.3 231.2h0M156.9 227h0M156.6 240.8h0M161.8 288.8h0M150.5 196.6h0M139.9 162.8h0M155.5 268.8h0M158.5 180.7h0M141 209.3h0M145.7 192.5h0M150.1 164.1h0M135.3 154.6h0M155.6 230.3h0M160.7 163.1h0M160 218.1h0M147.6 102.7h0M153.2 197h0M155.3 213.9h0M149.3 135.5h0M139.4 177.4h0M161.1 225.5h0M160.7 189h0M152.3 183.7h0M145.2 208.5h0M150.1 192.1h0M139.9 243.7h0M152.9 248.7h0M149.3 197.1h0M162.3 97.7h0M160.3 255.9h0M156.9 184.8h0M150 269.4h0M162.9 275.5h0M154 216.8h0M159.1 156h0M151.3 186.3h0M145 186.2h0M162.3 141.8h0M162.7 176.5h0M154.8 227.3h0M156.1 244.7h0M154.4 214.1h0M142.5 183h0M159.2 215.1h0M158.7 210.9h0M150.9 226.2h0M156.1 237.7h0M160 256.4h0M158.9 237.3h0M142.6 115.5h0M156.2 148.7h0M155.8 134.2h0M156.1 194.1h0M151.8 205.4h0M145.1 161.1h0M148.8 217.4h0M162.5 145.6h0M152.2 193.3h0M153.3 162h0M160.1 236.2h0M145.4 113.5h0M125.5 189.6h0M129.9 167.9h0M162.1 234.7h0M158.3 232h0M143.7 166.3h0M162 277h0M158.6 140.6h0M159 227.5h0M162.3 153.8h0M153.7 230.4h0M148.2 201.6h0M160.5 195.4h0M133.6 156.1h0M155.2 239.8h0M140.1 173.3h0M141.1 185.5h0M129.4 162.8h0M156.4 239h0M143.2 199.2h0M162.3 234.2h0M157.4 217.4h0M144.9 148.8h0M119.3 143.4h0M158.1 243.4h0M154.9 207.1h0M160.3 202.9h0M152.6 244.3h0M151.3 218h0M161.1 250.1h0M139.8 173.2h0M159.6 244.5h0M147.6 132.8h0M143.2 172.7h0M137.8 171.1h0M158.7 230.5h0M158.7 280h0M155.8 191.5h0M158.3 257.7h0M153.7 148.6h0M152.7 194.9h0M148.6 200.8h0M152.9 194.9h0M161.8 164.7h0M156.5 201.2h0M144 174.3h0M156 183h0M153.1 224.7h0M124.1 148.3h0M131 125h0M157.6 148.1h0M161.4 194.7h0M143.4 168.3h0M156.2 250.5h0M155.5 239.1h0M138.1 241.9h0M159.9 227.9h0M144.9 161.4h0M153.3 239.3h0M158.4 230.6h0M156 271.6h0M161.8 233.2h0M158 279h0M144.1 159h0M157.7 208.3h0M145.3 157.4h0M149.4 136.9h0M157.9 178.9h0M149.2 185.2h0M150.1 194.7h0M160.8 221h0M156.5 192.3h0M152.1 233.6h0M159.6 247.4h0M159.8 228.1h0M160.1 202.1h0M143.6 168.5h0M160.8 247.3h0M154.6 259.9h0M160.6 150.5h0M149.5 175h0M146.8 163.6h0M161.2 213.7h0M150 265.9h0M158.6 139h0M152.2 142.8h0M153.6 228.9h0M151.7 181.5h0M152.4 149.8h0M157 144.3h0M151.4 174.6h0M158.7 210.5h0M160.3 221.6h0M158 203h0M157.5 231.1h0M137.1 170.4h0M156.3 193.3h0M153.1 210.8h0M156.7 246.9h0M153.8 194.4h0M158.9 215.2h0M153.5 181.3h0M151.9 243.6h0M159.8 167.8h0M161.7 204.7h0M154.1 109.7h0M157.8 234.9h0M154.8 107.1h0M160 199.9h0M147.2 102.7h0M153.2 144.7h0M156.1 254.4h0M161.3 223.5h0M148.1 149.6h0M159.1 182.5h0M130.3 155.7h0M158.3 176.4h0M160.1 128h0M154.1 207.4h0M157.1 245.6h0M148.7 227.4h0M146.1 197.5h0M156.6 238.5h0M161.9 197.7h0M160.9 206.2h0M145.2 211h0M153.8 198.4h0M156.5 214.6h0M145.1 150.2h0M149.6 191.8h0M121.5 160.5h0M162.2 263.7h0M153.8 195.2h0M146.3 218.8h0M160.4 287.7h0M150.4 101.2h0M161.1 258.1h0M145 158.2h0M156.1 161.4h0M112.8 142.5h0M150.5 217.1h0M155.7 167h0M148.7 201.3h0M160.2 165.6h0M146.9 203.6h0M151.4 135.9h0M152.2 171.9h0M160.4 212.5h0M160.5 223.8h0M153.4 190.3h0M161 173.4h0M158.6 169.1h0M154.4 220.9h0M162.3 196.4h0M158.6 235h0M152.7 215.1h0M160.5 164.6h0M157.6 220h0M161.6 162.1h0M154.5 207.2h0M158.9 191.6h0M153.3 210.8h0M141.8 142.2h0M148.3 190.4h0M151.6 232.5h0M150.8 190h0M149 140.6h0M142.6 183.6h0M155.2 245.4h0M159.8 231.4h0M138.6 244.5h0M140.4 132.7h0M157.5 187.9h0M150.8 155.6h0M160.9 158.1h0M161.1 211.9h0M155 145.3h0M159.9 202.2h0M143.4 181.9h0M150.2 202h0M161.3 217h0M161.4 233.8h0M153.8 188.6h0M150.1 257.7h0M159.7 211.1h0M160.9 209.6h0M154.3 231.8h0M155.5 118.3h0M153.7 190.7h0M143 171.7h0M148.1 220.2h0M161.3 254.5h0M144.9 138.5h0M136.6 154.8h0M152.6 194.4h0M161.1 192.4h0M152.7 195.3h0M159.8 202.9h0M158.9 170h0M156.4 172.7h0M154.7 207.5h0M150.9 234.4h0M160.2 124.7h0M157.7 220.4h0M160.9 234.3h0M146.9 195h0M159.4 206.9h0M156.9 263.1h0M159 248.2h0M148.3 135.1h0M162.3 214.3h0M110.9 145h0M155.3 249.3h0M156.6 160h0M142 191.1h0M133.4 217h0M162.1 280.4h0M139 134.3h0M142.1 190.4h0M156.1 197.6h0M119 154.8h0M154.8 243.2h0M137.5 129.4h0M137.3 157.7h0M159.2 169.2h0M151.5 167h0M160.2 226.2h0M154.2 202.8h0M150.3 174.1h0M162.1 218.7h0M150 131.2h0M147.9 156.1h0M150.2 129.3h0M154.2 265.1h0M149.6 122.2h0M155.7 217.6h0M150.9 230.5h0M162.1 208.3h0M148.9 128.2h0M161.4 173.1h0M138.6 175.8h0M153.2 146.1h0M153.7 144h0M153.2 140.6h0M160.4 150.5h0M141.9 180.2h0M138.1 170.4h0M158.2 258.4h0M151.2 201.9h0M162.5 199.4h0M144.7 190.3h0M155.5 230.6h0M158.5 219.8h0M140.2 146.1h0M151.5 211.9h0M162.9 194.8h0M156.3 106.6h0M149.8 180.5h0M150 152.8h0M127.7 174.9h0M160.8 169.5h0M144.3 143.1h0M148.5 206.4h0M133.6 161.3h0M161.3 219.1h0M152.6 215.8h0M143.5 167.8h0M154.5 225.6h0M148.5 208.2h0M136.7 137.3h0M157.4 244.6h0M143.2 170.4h0M146.6 215.3h0M155 268.8h0M156.3 213.2h0M150.9 143.2h0M152.8 217.1h0M156.3 181.5h0M145.9 199.5h0M158.2 268.6h0M162.1 218.1h0M157.1 144.7h0M140.6 162.1h0M162 217.3h0M159.7 233.6h0M158.2 203.6h0M159.6 260.5h0M162.5 188.4h0M156.9 276.4h0M160.4 235.2h0M140.6 161.1h0M147.4 200.5h0M153 230.9h0M154.8 193.7h0M157.2 212.8h0M149.5 188.8h0M152.9 150.1h0M138.5 205.1h0M157.4 279.4h0M153.8 180.7h0M162.6 237.6h0M159.3 147.1h0M143.5 154.9h0M143.8 201.1h0M156.2 179h0M157.9 268.1h0M153 281h0M151.3 216.2h0M162.7 184.3h0M161.3 137.3h0M154.5 231.3h0M157 243.1h0M155.9 239.7h0M162.5 234.7h0M156.8 192h0M158.6 266.3h0M156.9 164.9h0M158.9 261.1h0M154.2 95.3h0M159.3 206.2h0M146.7 195.7h0M156.5 276.9h0M142.6 186.7h0M161.2 288.6h0M154.6 161.1h0M153.1 229.8h0M155.8 188.5h0M133.8 176.5h0M159.7 156.9h0M155.1 137.6h0M159 147.8h0M152.2 165.6h0M158.7 228.4h0M157.8 252.7h0M145 165.5h0M159.2 184.8h0M154.4 224.1h0M161.3 202.6h0M161 156.5h0M152.8 158.1h0M160.6 227.9h0M152.4 260.9h0M162.6 288.8h0M148.3 221.4h0M158.8 214.6h0M161.3 261.4h0M162 150.8h0M123.9 112.2h0M155.4 235.5h0M143.9 165.7h0M147.3 205.2h0M143.4 173.4h0M144.6 191.8h0M146 203.6h0M127.4 156h0M146.2 167.2h0M162 218.8h0M139.9 177.2h0M149.4 227.5h0M148.2 201.4h0M150 171.5h0M160.9 178h0M156.2 271.4h0M161.9 172.4h0M156.6 254.9h0M160.7 189.3h0M131.8 166.9h0M156.2 268.8h0M140.4 249.1h0M157.8 161.8h0M143.3 184.9h0M143.5 155.2h0M136.8 228h0M160.6 253.8h0M147.4 187.6h0M151.3 228.8h0M156.4 197.6h0M161.3 187.5h0M162.1 156.6h0M144.3 187.6h0M143.3 194.9h0M152.6 183.4h0M112.4 176.9h0M158.9 228.4h0M139.2 175.9h0M157.3 231.4h0M156 225.8h0M161.8 203.7h0M161 152.4h0M140.4 161.3h0M131.3 143.6h0M162.1 196.8h0M160.6 196h0M138.2 132.2h0M153.6 233h0M160.3 248h0M156.3 254.4h0M142.9 161.9h0M152.7 237.4h0M161.9 247.9h0M160.2 181.9h0M161.9 247h0M159.8 235.3h0M157.8 237.6h0M157.7 181.9h0M147.4 232.5h0M153.1 223.9h0M147.2 209.2h0M162.1 285.8h0M159.4 212.5h0M159.5 284.6h0M156.9 256.5h0M154.1 223.2h0M156.6 196h0M155.8 213.3h0M142 152.6h0M159.8 196.1h0M153.5 175.2h0M161.8 223.7h0M155.9 231.5h0M150.9 124.2h0M160 277.6h0M137.2 147.7h0M159 236.6h0M153.6 170.9h0M161.8 261.5h0M130.7 179h0M142.3 187.2h0M162.7 231.6h0M156.3 172.1h0M135.6 154.9h0M154.9 188.1h0M160.8 228h0M162.1 204.2h0M161.5 261.8h0M155.3 247.8h0M150.4 191.5h0M154.7 202h0M162.8 169.2h0M158.7 193.5h0M115.5 174.8h0M147.6 206.4h0M125.1 173.4h0M161.3 246.9h0M162.9 195h0M160.3 222.7h0M153.6 178.2h0M154.4 179.7h0M151.7 238.4h0M150.9 193.7h0M148.4 191.1h0M138.9 205.8h0M147.4 186h0M162.9 136.4h0M148.8 172.2h0M156.3 212.2h0M146.3 189h0M148.3 107.7h0M162.7 228.5h0M162.1 148.1h0M148.3 230.7h0M161.9 273.7h0M155.1 231.8h0M146 184.2h0M157.5 210.8h0M159.5 232.3h0M160.1 236.1h0M159.8 244.4h0M157.1 249.1h0M152.2 228.1h0M150.6 180.3h0M154.6 186.9h0M148.5 195.6h0M154.5 158.2h0M148.6 227.7h0M156.1 200.7h0M144 191.7h0M152 218.9h0M142.5 172.5h0M148.3 161.4h0M162 208.7h0M155.5 258.9h0M156.6 185.1h0M156.9 161.6h0M142.6 158.6h0M151.8 224.9h0M152.1 243.3h0M158.6 213.3h0M151.9 248.9h0M143.7 184.2h0M158.6 180.9h0M134 170.9h0M160.6 240.7h0M147.9 203.1h0M160.8 257.3h0M154.2 269.7h0M154.3 179.8h0M162.9 285.7h0M148 217.4h0M159.1 145.4h0M158.1 170.4h0M146.8 173.5h0M152.4 210.7h0M158.7 228.7h0M150.5 108.2h0M156.2 210.3h0M159.5 228.5h0M131.7 170.4h0M161.8 203.8h0M158.1 140.9h0M152.5 230.2h0M158.2 239.1h0M161.7 219.4h0M148.8 126.8h0M153.9 157.6h0M145.1 188.4h0M155.2 196.2h0M157.9 184.5h0M155.6 245.2h0M145.6 176.7h0M156.4 223h0M153.3 189.3h0M149.9 199h0M144 185.9h0M161.5 221.2h0M156.1 155.9h0M160.6 183.3h0M150.8 235.4h0M146.7 179.5h0M158 215.5h0M162.8 182h0M149.1 160.6h0M157.8 222.1h0M148 201.1h0M151 196.5h0M152 197.8h0M143.8 105.7h0M143 183.4h0M161.3 252.1h0M149.9 194.4h0M160.3 224.7h0M161.8 228.5h0M152.6 250.4h0M142.6 165.5h0M156 223.4h0M157 216.9h0M149.7 210.1h0M162 230.4h0M159.7 218.3h0M158.7 203.8h0M137.5 169.3h0M162.4 112.8h0M128.2 195.9h0M144.4 160.7h0M158.2 232.2h0M156.1 131.4h0M150.9 95.2h0M146.7 183.1h0M159.3 214.2h0M157.1 196h0M147 126.8h0M154.7 255.6h0M145.9 139.2h0M156.3 244h0M162.2 236.3h0M134.5 185.7h0M148.3 168.3h0M159.1 153.5h0M140 132.2h0M161.1 250.2h0M138.5 194.6h0M136.1 162.3h0M148.7 185.3h0M157.3 145.9h0M160.9 196.1h0M147.4 211.5h0M162.4 284.5h0M136.1 161.5h0M151.9 250.9h0M157.8 183.8h0M161 167.9h0M144.1 203.4h0M114.6 151.3h0M151.2 227.8h0M159.7 170.8h0M146.9 203.8h0M161.6 266.6h0M160.3 290.6h0M147.4 207h0M147.2 123h0M150.1 144.5h0M154.3 176.2h0M141.5 161.4h0M142 156.5h0M135.1 209.5h0M151.4 137.6h0M160.5 186h0M148.5 221.7h0M143.8 167.3h0M162.7 203.7h0M133.5 162.6h0M154.8 254.3h0M157.3 254.8h0M158.8 109.3h0M137 169.3h0M156.8 248.3h0M155.9 273.6h0M153.3 203.4h0M159.5 247.1h0M137.3 137.4h0M162.5 288.3h0M162.7 142.2h0M157.4 246.5h0M151.8 257.4h0M138.1 197.5h0M161.5 258.4h0M151.6 226.8h0M151.5 225.7h0M160.8 255.2h0M145.4 184h0M154.2 263.7h0M152.4 243.1h0M147.6 157.4h0M139.8 157.4h0M126.6 130.7h0M149.6 245.3h0M136.8 162.3h0M162.1 189.3h0M160.7 261.1h0M156.3 176.1h0M151.5 200.9h0M149.6 231.6h0M162.8 251.2h0M162.3 276.1h0M145.5 177.2h0M159.7 179.8h0M160.6 214.1h0M155.3 218.5h0M145.3 228.6h0M158 165h0M148.3 191.5h0M160 284.1h0M153.3 196.6h0M157.8 178.6h0M152.1 228.8h0M158.1 222.9h0M156.8 228.3h0M150.5 171h0M156.5 219.5h0M161.2 202h0M161.4 196.6h0M156.7 128.1h0M162.7 271.2h0M162.4 257.1h0M155.3 210.8h0M151.4 238.5h0M150.9 194.3h0M150.5 174.6h0M160.7 144.4h0M149.9 232.2h0M154.3 190h0M143.7 194.7h0M152.1 231.5h0M146.2 172.5h0M157.7 187.7h0M148.2 221.1h0M156.2 232.6h0M145.6 166.9h0M157.7 205.7h0M150.4 144.1h0M158 159.6h0M161.1 257h0M150.4 198.1h0M157.4 232h0M154.1 248.9h0M162.8 234.2h0M162.8 132.2h0M151.4 210.6h0M161.3 110.9h0M152.7 163.4h0M159.6 281.8h0M161.4 179.1h0M162.5 130h0M158.8 283.8h0M159.6 259.7h0M152.8 205.2h0M149.9 225.9h0M139.3 120.3h0M160.5 240.5h0M148.8 119.8h0M154.4 265.9h0M162.1 240.2h0M155.7 184.3h0M157.6 175.4h0M157.8 192.6h0M153.8 123.9h0M144.3 114.1h0M147.7 106.7h0M162.4 204.1h0M146.1 158.2h0M149.9 212.3h0M123 131.9h0M159.8 230h0M145.7 209.4h0M150.8 222.3h0M154.8 124.2h0M156.2 264.8h0M150.5 237.8h0M155.3 255.9h0M145.2 201.2h0M153.7 242.1h0M114 154.7h0M129.3 157.1h0M147.6 160.6h0M151.6 180.8h0M157.6 274.4h0M148.5 200.9h0M153.4 257.8h0M157.5 161.4h0M162 261.6h0M162.6 228.5h0M146.7 176.9h0M144.3 197h0M146.9 149.7h0M133.2 179.6h0M158.3 270h0M149.4 188.2h0M160.3 252.6h0M147.7 131.1h0M142.7 124.8h0M158.1 145.7h0M159.1 95.6h0M145.5 161.6h0M162 129.7h0M150.6 154.7h0M162.2 157.5h0M156.3 158.3h0M160.5 185.4h0M140.1 114.2h0M151.7 250.7h0M161.3 273.4h0M160.4 235.7h0M155.2 124.4h0M158.1 212h0M161.7 237.9h0M157.5 239.4h0M148.6 177.6h0M157.7 202.1h0M156.2 142.9h0M146.9 214.8h0M151.5 156.5h0M156 240.3h0M138 174h0M160.9 208.7h0M134.5 49.1h0M143.8 47h0M134.5 77.7h0M146 77.7h0M150.2 81.1h0M119.1 90.9h0M158.7 86.2h0M91.5 108.7h0M95.7 152.1h0M104.3 145.7h0M111.9 128.7h0M113.2 144h0M118.3 136.4h0M123.8 149.1h0M160.5 65.2h0M156 92.5h0M128 112h0M122 120.5h0" stroke="#00ff00" stroke-width="2.8" stroke-linecap="round" fill="none"/>
<path d="M196.1 154.6h0M201.1 230.2h0M196.6 175.6h0M199.5 168h0M193.7 84.6h0M192.5 145.5h0M195.7 240.7h0M194.4 253.3h0M201.4 190h0M204 170h0M195.5 226.5h0M209.1 146h0M194.4 289.1h0M194.6 231.2h0M199.7 163.4h0M202.1 148.3h0M204.3 189.4h0M195.7 121h0M200.7 169.3h0M193.2 201h0M195.8 117.5h0M201.8 176.3h0M199.6 233.3h0M192.6 177.3h0M192.9 246.5h0M196.9 138.3h0M202.7 205h0M195.1 282h0M193 129.2h0M204.5 173.2h0M196.8 218.4h0M198.3 184.9h0M195.4 159.2h0M203.6 194.6h0M195.1 181.2h0M207.3 139.4h0M196.9 213.6h0M194.9 193.3h0M196.6 103h0M201.9 207.7h0M194.2 226.9h0M204.2 188.4h0M193.5 143.9h0M198.4 232.2h0M198.5 204.3h0M193.2 223.3h0M197.7 105.2h0M207.7 130.9h0M192.9 175.6h0M193.5 135.5h0M193.3 261.5h0M196 231h0M200.8 178.5h0M204 126.7h0M196.3 267h0M199 176.5h0M201.1 207.6h0M196.7 207.7h0M198.6 187.4h0M198 247.8h0M204 121.1h0M198.3 221.2h0M208.5 175.6h0M192.9 248.8h0M202.5 228.3h0M193.4 281.3h0M194.6 120h0M202.1 189.1h0M203.3 174.4h0M196.7 91.7h0M198.1 224.7h0M198.4 179h0M196.4 227.4h0M211.2 150.4h0M200.3 170.4h0M199.9 137.8h0M199.1 140.8h0M197 244.9h0M194.2 222.7h0M197.8 181.4h0M198.9 162.5h0M202.2 196.8h0M193 160.7h0M204.2 151.6h0M195.2 213h0M193.7 189.9h0M196.8 212.7h0M193.2 250.4h0M201.8 139.4h0M194.6 99.2h0M192.5 200h0M207.2 104.7h0M197.2 110.2h0M196 220.4h0M194.3 207.6h0M196.2 217.8h0M195.3 142.7h0M211.2 124.2h0M198.2 215.8h0M193.5 266.9h0M202.4 187.3h0M192.8 126.9h0M202.3 170.9h0M203.7 190.4h0M194.8 272.8h0M202.4 159.9h0M202.9 206.9h0M199.8 188.8h0M201.5 184.4h0M199.4 213.6h0M192.6 238h0M196.6 185.1h0M212.6 163.4h0M197.7 105.1h0M198.1 204.7h0M194.5 243h0M208.2 97.7h0M192.9 137.8h0M194.7 228.4h0M194.2 203.4h0M201.5 187.2h0M207.1 118.8h0M199.7 191h0M196.3 118.6h0M196.3 178.5h0M194 227.2h0M194 180.3h0M196.2 274.5h0M202.1 222.2h0M201.4 160.6h0M197.7 231.3h0M194.3 207.2h0M193.5 253.8h0M193.9 190.1h0M194.6 275.9h0M193.7 208.9h0M193.2 153.2h0M193.5 217.7h0M206.4 145.7h0M201.7 170.7h0M201.1 159.2h0M195.6 227.3h0M197.4 194.3h0M197.5 242.2h0M197.9 227.6h0M202.3 216h0M199.9 164.4h0M193.5 113.2h0M193.1 258.1h0M194.5 116.5h0M200.5 104.9h0M194 130.1h0M197.4 181.4h0M197.1 179.8h0M193.8 189.2h0M200.9 156.6h0M193.3 215.1h0M198.7 166.1h0M213.2 154.8h0M197.4 124.5h0M196.4 138.7h0M193.6 204.2h0M202.7 156.9h0M199.9 192.6h0M201.2 183.3h0M202.1 97.9h0M195.8 206.7h0M209.1 213.5h0M193.8 267.9h0M195.2 241.9h0M224.6 119.3h0M212.6 169.4h0M195.6 230h0M205.3 199.4h0M195.3 141h0M198.5 181.6h0M201.6 106h0M196.8 241.4h0M195.6 178.4h0M202 185.3h0M197.5 235.5h0M193.1 174.3h0M203.1 156.6h0M193.8 132.3h0M195.3 184.1h0M199.9 160.6h0M208.4 131.4h0M201.1 171.7h0M201.7 188.8h0M199.7 225.4h0M201.7 118.7h0M198.3 195.6h0M207.8 115.3h0M192.5 185.4h0M201.8 176h0M195.1 231.3h0M194.1 257.4h0M213.2 176.8h0M199.2 200.2h0M200.7 124.8h0M193.1 259.9h0M194.5 257.3h0M204.9 139.1h0M198.4 236.8h0M198.5 247.5h0M200.6 239.4h0M211.2 164.6h0M204.6 148h0M192.5 287.7h0M194.3 177.7h0M197.8 242.5h0M200 230.4h0M198.1 165.4h0M201.8 204.3h0M200.9 181.4h0M194.9 164.5h0M203.1 165.6h0M200.6 179h0M198.3 152.4h0M195.3 220.8h0M192.6 240.9h0M192.5 237.8h0M206.2 194.5h0M195.8 235.2h0M195.6 185.1h0M193.1 203.3h0M205.2 120.1h0M202.3 242.9h0M192.9 134.8h0M198.5 159.4h0M193.9 225.4h0M196.9 166.4h0M198.7 221.5h0M199.7 212.7h0M202.4 179.1h0M203.4 147.3h0M194.9 120.8h0M200.8 210.9h0M196 228h0M198.1 187.3h0M207.3 137.8h0M194.4 162.6h0M200.8 159.2h0M204.2 145.7h0M193.3 190.5h0M204.5 162h0M194.8 90.4h0M196.1 163.9h0M196.2 223.2h0M197.2 210.5h0M193.5 203.1h0M201.2 176.7h0M193.5 160.8h0M192.6 267.7h0M197.3 229.1h0M201.1 211.8h0M192.6 243.1h0M195.1 254.5h0M199.3 141h0M196.4 258.6h0M216.2 114.1h0M195.8 191h0M198.8 186.2h0M206.7 100.5h0M198.9 96.2h0M197.2 252.1h0M198.3 142.5h0M204.5 162.8h0M200.1 228.5h0M201.5 209.8h0M200.3 239.3h0M198.7 110.5h0M195.8 265.4h0M202.8 233h0M193.9 201.7h0M198.9 240.6h0M195.4 140h0M201.3 181.3h0M193.7 206h0M194.9 276.6h0M193.4 273.4h0M201 192.8h0M193.2 290.3h0M216.3 152.8h0M199.4 216.9h0M199.7 142.4h0M202 177.7h0M200.8 163.6h0M193.9 173.1h0M198.7 226.7h0M201.7 223.7h0M201.6 212.1h0M202.2 186.8h0M199.5 153.8h0M198.9 204.1h0M200.4 126.2h0M196.3 214.5h0M192.7 250.6h0M193.8 230.2h0M206.3 224.9h0M198 122h0M194.3 151.1h0M193.8 172.7h0M195.2 196.9h0M200 178.8h0M197.4 253.7h0M202.9 164.2h0M198.3 140.7h0M198.7 133.2h0M197.5 194.7h0M203.2 199.3h0M195.3 239.6h0M200.2 196.6h0M199.1 201.7h0M192.6 285.1h0M194.1 180.5h0M197 253.1h0M197.1 203.1h0M202.9 107.6h0M195 266.7h0M202.6 183.8h0M203.8 175.5h0M193.2 114.6h0M193.8 93h0M200.3 191.5h0M200.9 219.4h0M193.6 173.7h0M195.7 168.1h0M192.7 283.4h0M203.4 177.9h0M201.9 213.2h0M207.2 110.1h0M194 162.1h0M198.8 180.3h0M202.6 151.4h0M194.3 200.8h0M203.8 185h0M193.3 175.9h0M195.7 283.1h0M206.4 149.4h0M208.2 142.7h0M195.6 156.2h0M200.1 138.1h0M197.5 251.2h0M204.4 182.7h0M201.9 202.2h0M194.6 204.8h0M194.5 253.5h0M198.9 239.2h0M193.5 199.6h0M205.2 247.5h0M198.5 211.7h0M194.8 252.1h0M198.1 170.8h0M212.6 92.8h0M201 173.8h0M193.6 199h0M193.4 263.6h0M193.4 230.3h0M198.1 162.2h0M196 186.8h0M198.7 206.7h0M194.5 288.4h0M197.6 251.4h0M201.9 176.5h0M199.3 245.6h0M192.5 155h0M197.6 190.6h0M197.5 244.9h0M192.8 104.7h0M195.3 217.6h0M192.7 270.6h0M198.2 213.7h0M194.6 169h0M202.4 129.1h0M196.4 175.2h0M194.5 206.4h0M195.5 183.8h0M193.9 257h0M197.8 202.2h0M196 156.2h0M196.9 180.9h0M199.9 161.1h0M200.4 217.7h0M193.8 165.6h0M201.1 202.3h0M198.6 241.4h0M194.4 274.2h0M193.4 240.7h0M195.5 220.3h0M197.1 187.7h0M196.6 235.5h0M194.6 255.6h0M199.7 178.1h0M197.3 172h0M201.8 169.4h0M197.3 175.3h0M193.6 224.7h0M202 173.1h0M200.5 170.1h0M196.3 147.3h0M193.5 207.5h0M195.6 247.5h0M201.6 142.6h0M195.4 146.9h0M202.3 203.6h0M199.4 237.9h0M202.2 145.2h0M200.3 229.9h0M197.8 223.3h0M192.8 141.9h0M202.6 189.7h0M192.8 194.3h0M192.8 231.1h0M201.3 179.5h0M198.9 186.5h0M193.8 162.7h0M193.6 284.1h0M197.4 134.7h0M200.1 102.3h0M199.1 168.9h0M193.6 213h0M204.3 134h0M195.4 131h0M201 229.3h0M202.3 197.3h0M196.6 183.8h0M198.1 238.9h0M203.4 200.3h0M210.9 148h0M202.9 91.3h0M193.7 284.1h0M192.9 162.3h0M193 266.6h0M199.1 223.9h0M193.7 161.7h0M198.1 245.3h0M197.4 176.2h0M195.5 216.4h0M192.5 158.5h0M200.4 66.2h0M219.1 122.8h0M221.3 178.1h0M219.1 247h0M203.5 90.5h0M205.8 90.2h0M216.5 116.5h0M217.8 128.3h0" stroke="#ff0000" stroke-width="2.8" stroke-linecap="round" fill="none"/>
</g>
<path d="M162.9 339.6V33.3" stroke="#000" stroke-width="2.6" stroke-dasharray="2.6 7.7 10.3 7.7" stroke-dashoffset="-0.8" fill="none"/>
<path d="M192.5 339.6V33.3" stroke="#000" stroke-width="2.6" stroke-dasharray="2.6 7.7 10.3 7.7" stroke-dashoffset="-0.8" fill="none"/>
<path d="M47.6 290.6H307.7" stroke="#000" stroke-width="2.6" stroke-dasharray="2.6 7.7 10.3 7.7" fill="none"/>
<path d="M45.8 326.1H47.6" stroke="#333" stroke-width="1"/>
<text x="44.9" y="330.6" text-anchor="end" font-size="12.7" fill="#4d4d4d">0.0</text>
<path d="M45.8 259H47.6" stroke="#333" stroke-width="1"/>
<text x="44.9" y="263.5" text-anchor="end" font-size="12.7" fill="#4d4d4d">2.5</text>
<path d="M45.8 191.8H47.6" stroke="#333" stroke-width="1"/>
<text x="44.9" y="196.3" text-anchor="end" font-size="12.7" fill="#4d4d4d">5.0</text>
<path d="M45.8 124.7H47.6" stroke="#333" stroke-width="1"/>
<text x="44.9" y="129.2" text-anchor="end" font-size="12.7" fill="#4d4d4d">7.5</text>
<path d="M45.8 57.5H47.6" stroke="#333" stroke-width="1"/>
<text x="44.9" y="62" text-anchor="end" font-size="12.7" fill="#4d4d4d">10.0</text>
<path d="M103.8 339.6V341.5" stroke="#333" stroke-width="1"/>
<text x="104.1" y="351.8" text-anchor="end" font-size="12.7" fill="#4d4d4d">−5</text>
<path d="M177.7 339.6V341.5" stroke="#333" stroke-width="1"/>
<text x="178" y="351.8" text-anchor="end" font-size="12.7" fill="#4d4d4d">0</text>
<path d="M251.6 339.6V341.5" stroke="#333" stroke-width="1"/>
<text x="251.9" y="351.8" text-anchor="end" font-size="12.7" fill="#4d4d4d">5</text>
<text x="177.7" y="365.6" text-anchor="middle" font-size="13" textLength="43" lengthAdjust="spacingAndGlyphs">log2FC</text>
<text transform="translate(15.1 186.8) rotate(-90)" text-anchor="middle" font-size="13" textLength="85.5" lengthAdjust="spacingAndGlyphs">−log10P.Value</text>
<text x="179.3" y="10.9" text-anchor="middle" font-size="14.3" font-weight="bold" textLength="73.2" lengthAdjust="spacingAndGlyphs">GSE32445</text>
<rect x="379.8" y="33.3" width="279.2" height="306.3" fill="#ebebeb"/>
<g clip-path="url(#cc)">
<path d="M518.9 325.2L516.6 321.9L514.3 318.5L512.4 315.2L510.7 311.9L509.4 308.5L508 305.2L506.7 301.9L505.5 298.5L504.6 295.2L503.8 291.8L503 288.5L502.2 285.2L502.2 281.8L502.2 281.8L503.1 279.7L503.1 277.6L503.1 275.4L503.1 273.3L503.1 271.2L503.1 269.1L503.1 266.9L503.1 264.8L503.1 262.7L503.1 260.5L503.1 258.4L503.1 256.3L503.1 254.1L503.1 252L503.1 249.9L503.1 247.8L503.1 245.6L503.1 243.5L503.1 241.4L503.1 239.2L503.1 237.1L503.1 235L503.1 232.8L503.1 230.7L503.1 228.6L503.1 226.5L503.1 224.3L503.1 222.2L503.1 220.1L503.1 217.9L503.1 215.8L503.1 213.7L503.1 211.6L503.1 209.4L503.1 207.3L503.1 205.2L503.1 203L503.1 200.9L503.1 198.8L515.2 198.8L515.4 200.9L515.6 203L515.8 205.2L516 207.3L516.1 209.4L516.3 211.6L516.5 213.7L516.7 215.8L516.9 217.9L517 220.1L517.2 222.2L517.4 224.3L517.6 226.5L517.7 228.6L517.9 230.7L518.1 232.8L518.2 235L518.4 237.1L518.6 239.2L518.7 241.4L518.9 243.5L519 245.6L519.2 247.8L519.4 249.9L519.5 252L519.7 254.1L519.8 256.3L520 258.4L520.1 260.5L520.3 262.7L519.4 264.8L519.4 266.9L519.4 269.1L519.4 271.2L519.4 273.3L519.4 275.4L519.4 277.6L519.4 279.7L519.4 281.8L519.4 281.8L519.4 285.2L519.4 288.5L519.4 291.8L519.4 295.2L519.4 298.5L519.4 301.9L519.4 305.2L519.4 308.5L519.4 311.9L519.4 315.2L519.4 318.5L519.4 321.9L519.4 325.2ZM519.9 325.2L522.2 321.9L524.5 318.5L526.4 315.2L528.1 311.9L529.4 308.5L530.8 305.2L532.1 301.9L533.3 298.5L534.2 295.2L535 291.8L535.8 288.5L536.6 285.2L536.6 281.8L536.6 281.8L535.7 279.7L535.7 277.6L535.7 275.4L535.7 273.3L535.7 271.2L535.7 269.1L535.7 266.9L535.7 264.8L535.7 262.7L535.7 260.5L535.7 258.4L535.7 256.3L535.7 254.1L535.7 252L535.7 249.9L535.7 247.8L535.7 245.6L535.7 243.5L535.7 241.4L535.7 239.2L535.7 237.1L535.7 235L535.7 232.8L535.7 230.7L535.7 228.6L535.7 226.5L535.7 224.3L535.7 222.2L535.7 220.1L535.7 217.9L535.7 215.8L535.7 213.7L535.7 211.6L535.7 209.4L535.7 207.3L535.7 205.2L535.7 203L535.7 200.9L535.7 198.8L525.5 198.8L525.3 200.9L525.1 203L524.9 205.2L524.7 207.3L524.6 209.4L524.4 211.6L524.2 213.7L524 215.8L523.8 217.9L523.7 220.1L523.5 222.2L523.3 224.3L523.1 226.5L523 228.6L522.8 230.7L522.6 232.8L522.5 235L522.3 237.1L522.1 239.2L522 241.4L521.8 243.5L521.7 245.6L521.5 247.8L521.3 249.9L521.2 252L521 254.1L520.9 256.3L520.7 258.4L520.6 260.5L520.4 262.7L519.4 264.8L519.4 266.9L519.4 269.1L519.4 271.2L519.4 273.3L519.4 275.4L519.4 277.6L519.4 279.7L519.4 281.8L519.4 281.8L519.4 285.2L519.4 288.5L519.4 291.8L519.4 295.2L519.4 298.5L519.4 301.9L519.4 305.2L519.4 308.5L519.4 311.9L519.4 315.2L519.4 318.5L519.4 321.9L519.4 325.2Z" fill="#000"/>
<path d="M509.4 311.4h0M503.7 287.1h0M504.5 281.2h0M533.5 287.1h0M536.8 293.6h0M520.6 322.6h0M504.8 296.6h0M504.3 278.8h0M501.9 285.7h0M535.3 279.7h0M516.9 320h0M505.4 298.1h0M508 303h0M530.2 301.2h0M519.7 324h0M532 302.1h0M537.9 281.8h0M529.9 311.1h0M503.5 290.2h0M506.8 296.4h0M502.6 289.8h0M531 304.6h0M529.7 307.7h0M526.8 311.8h0M534.6 292.7h0M501.5 291.5h0M531.2 308.3h0M511.6 316.3h0M503.5 277.8h0M525.4 316.2h0M531.7 302.9h0M505 297.4h0M512.5 316.1h0M533.9 294.8h0M536 282.5h0M536 293h0M536.4 282.3h0M509.3 310.8h0M502.9 287.2h0M536.6 288.4h0M508.7 308.3h0M536.1 290.6h0M537.9 283.1h0M534.7 278.7h0M534.8 286.1h0M533.4 297.9h0M538.1 286.6h0M533.3 294.9h0M534.5 289.5h0M538.2 289.3h0M534 280.3h0M509.9 308.2h0M527.9 311.3h0M505.1 293.8h0M506.2 298.4h0M508.1 308.4h0M524.1 319.5h0M505 297.4h0M504.9 288.5h0M502.2 288.9h0M535.3 291.2h0M535.3 291.4h0M505.5 301.3h0M537.4 283.2h0M535 291.5h0M537.1 285h0M534.3 291.4h0M533 295.9h0M511.1 309.1h0M535 296.3h0M505.3 304.7h0M503.5 280h0M531.8 305.7h0M531 309.8h0M505.7 297.7h0M529.7 308.4h0M528.9 310.2h0M504.4 288.1h0M532.8 298.5h0M531.1 312.4h0M536.5 285.4h0M502 292.4h0M525.8 317.8h0M506.2 305.7h0M532.3 305h0M536.5 286.7h0M506.8 298.5h0M507.2 307.1h0M527.4 314.9h0M509.6 310.4h0M537.9 283.8h0M528.5 308.6h0M531.3 304.2h0M511.8 314.1h0M504.8 288.8h0M524 317h0M533.8 296.2h0M505.5 280.6h0M501.9 287.2h0M509.4 310.9h0M503.5 278.3h0M510.6 312.4h0M507.4 298h0M504.2 294.1h0M506.6 303.7h0M502 286.7h0M501 284.5h0M531.1 304.1h0M538.5 286.8h0M502.1 286.9h0M535.3 294h0M514.7 321h0M535.4 286.4h0M534.2 289.9h0M538 282.8h0M503.3 282.4h0M504.1 290h0M501.8 288.1h0M503 283.4h0M504.2 279.3h0M506 295.2h0M535.6 284.4h0M535.3 278.4h0M514.8 320.2h0M501.1 281.9h0M507.6 298.2h0M507.2 294.5h0M492.3 303.6h0M502.3 290.4h0M537.8 285.8h0M533.5 278h0M525.3 313.7h0M535.3 281.5h0M537.3 283.6h0M503.5 280.2h0M537.8 283.1h0M530.4 303.2h0M535.3 278.2h0M507.7 303.4h0M503.5 278.9h0M527 313.4h0M504.2 284.7h0M537.3 288.2h0M505 302.7h0M534.8 296.8h0M505.6 297.4h0M535.5 285.3h0M503.5 277.9h0M503.6 288.2h0M535.3 281.5h0M536.8 288h0M503.5 281h0M534.1 285.9h0M537.5 283.7h0M508.7 303.9h0M505.5 291.2h0M536.2 286.3h0M528.7 312.6h0M532.5 300.5h0M502.5 289.2h0M509.8 304.3h0M537.7 283.2h0M503 295.9h0M503.5 290h0M513 315.2h0M508.4 305.6h0M503.9 297.5h0M533.9 295.2h0M530.1 304.5h0M528 307.3h0M509 311.6h0M501 286.6h0M503.5 280.8h0M539.4 283.1h0M504.5 292.8h0M535.3 277.8h0M513.3 314.1h0M529 306.8h0M503.5 278.2h0M532.5 302.1h0M537.4 282.2h0M504.5 290.5h0M509.2 306.6h0M509.5 308.6h0M531.6 302.2h0M507.3 302.5h0M503.5 278.3h0M503.5 279.7h0M517.1 319.7h0M501.8 289.4h0M502.3 286.3h0M509.1 308.7h0M531.4 304.4h0M535.8 292.7h0M534.8 295.5h0M534.4 286.9h0M535.3 279.3h0M525.4 314.7h0M513.9 318.6h0M523.7 320.1h0M510.9 308h0M536.6 285.3h0M531.3 303.1h0M505.6 296.1h0M539.1 282.3h0M534 296.4h0M507 301.6h0M506.7 306.8h0M535.7 288.7h0M535.3 278.5h0M504.1 282.5h0M510 311.8h0M534.9 296.8h0M535.3 278.5h0M531.1 301.5h0M501.8 288.5h0M506.2 304.7h0M535.3 280.4h0M526.2 315.6h0M532.4 294.9h0M507.6 304.6h0M535.5 287.3h0M535.1 283.4h0M502.3 288.3h0M505.9 299.4h0M534.5 292.7h0M538.8 281.9h0M535.2 280.5h0M517.9 320.4h0M530.8 298.8h0M507 304.2h0M535.3 279.4h0M493.5 288.9h0M526.4 310.1h0M531.6 300.7h0M506.6 298.1h0M535.9 287.5h0M533.8 292.4h0M534.7 278.2h0M536.1 286.8h0M534.3 290.9h0M503.5 277.9h0M531.9 279.6h0M534.6 287.6h0M526.8 316.9h0M510.5 312h0M533.9 291.2h0M535.3 279.7h0M510.7 310.2h0M536.7 282.9h0M532 308.2h0M526.9 313.4h0M505.2 298.4h0M504.1 288.8h0M534.6 305.7h0M534.6 285.9h0M505 293.3h0M535.3 281.4h0M535.5 288.1h0M506.2 300.7h0M528.6 310.7h0M502.7 290.2h0M503.5 279.1h0M534.5 299.4h0M504.5 297.3h0M536.8 290.4h0M535.3 278h0M538.2 284.2h0M534 296h0M512.6 311.9h0M535.3 278.9h0M504.4 293.1h0M504.1 281.5h0M521.5 321.3h0M504.9 293.1h0M532.9 306.1h0M501.9 285h0M500.6 286.9h0M538.1 283.4h0M536.3 291.3h0M502.5 290h0M503.9 282h0M524.6 320.5h0M509.5 317.5h0M499 282.2h0M503.5 279h0M508.1 309.9h0M500.6 283.9h0M513.2 320h0M534.3 296.6h0M527.8 312.7h0M535.3 280.1h0M506.9 309.1h0M540.1 300.4h0M514 318.1h0M535.3 281.2h0M532.5 298.5h0M531 304.3h0M536.6 288.2h0M525.3 318.4h0M505.1 296.4h0M539.8 294.5h0M536 294.7h0M503.5 280h0M536.5 291h0M501.6 289.7h0M500.3 284.6h0M505.2 303.1h0M504.5 278.1h0M531.9 301h0M537.3 282.7h0M534.4 296h0M528.4 314.3h0M503.9 283.7h0M543.3 287h0M504.7 296.8h0M509.8 307.7h0M503.9 291.4h0M527.8 314.7h0M505.7 300.6h0M504.2 293h0M535.3 278.1h0M513.3 316.5h0M503.5 277.9h0M503.1 288.5h0M504.7 299.6h0M525.6 315.5h0M534.9 291.9h0M533.6 292.6h0M535.6 288.3h0M527.9 314.2h0M516.5 320.1h0M503.9 290.4h0M503.6 291.4h0M502.6 285.1h0M502.1 288.5h0M529.6 304.8h0M503.5 279.7h0M538.5 283.4h0M538.6 284.7h0M503.5 278.8h0M527.9 310.3h0M505.8 293h0M503.5 280.2h0M531.6 305.4h0M502.7 288.7h0M537.6 282.8h0M503.5 278.4h0M505 295.2h0M525.7 313.5h0M504.6 279.8h0M503.5 281.4h0M510.9 309.9h0M534.7 285.9h0M507 301.4h0M509.2 305.3h0M505.3 300.2h0M506.6 301.5h0M533.7 300.2h0M504.5 278.5h0M506 295.9h0M503.8 284.7h0M524.9 318.4h0M500.9 294.3h0M537.2 283.7h0M514.3 317.7h0M503.4 291.3h0M535.3 281h0M536.5 290h0M534.8 292.8h0M533.7 293.1h0M504 283.9h0M503.5 281.3h0M537.3 287h0M505.4 298.9h0M504 279h0M535.3 279.2h0M503.5 278.2h0M527.8 313.9h0M534.5 293.7h0M538.4 283.1h0M535.5 288.9h0M529.4 306.8h0M525.8 319.8h0M504.2 277.8h0M535.4 286.4h0M535.9 297.8h0M535.3 291.9h0M536.1 295.5h0M505.7 288.1h0M538.6 283h0M528.6 310.7h0M535.3 279.3h0M503.5 292.7h0M531.6 293.3h0M504 279.4h0M537.4 282.4h0M538.8 291.2h0M504.3 290.3h0M506.1 307.1h0M507 304.6h0M506.1 303.3h0M504.3 289.4h0M527.5 314.5h0M527.8 310.3h0M504.8 290.6h0M507.3 306.9h0M505.1 293.9h0M506.1 298.9h0M536.1 290.4h0M532.7 297.4h0M535.1 281.7h0M501.7 284.4h0M528.5 311.7h0M500.5 285.3h0M505.7 294.6h0M535.1 294.7h0M509 309.8h0M510.8 311.1h0M503.5 281.4h0M506 300.3h0M529.4 305.7h0M530.5 302.3h0M530.7 307.5h0M505.9 295.4h0M535.1 286.7h0M535.4 293.9h0M502.9 285.5h0M510.3 309.8h0M511.4 309.7h0M534.9 286.4h0M531.9 298.3h0M505.7 293.3h0M535.3 279.6h0M505 292.2h0M507.2 297.7h0M531.4 300.4h0M503.5 293.5h0M534.7 280.9h0M527.4 313.3h0M531.4 301h0M535 283.7h0M503.9 289.4h0M528.1 308.9h0M535.3 279.9h0M535.3 281.4h0M513.5 317h0M504.1 302.7h0M504.3 279h0M538.3 284.2h0M527.2 314.5h0M507.3 307.3h0M509.2 309.5h0M509.1 301.5h0M525.9 315.3h0M532.4 304h0M504.9 296.3h0M528.4 307.3h0M505.1 294.1h0M526.2 316.1h0M505 307.5h0M534.4 291.1h0M501.8 282.5h0M510.2 307.8h0M527.7 309.3h0M507.3 301.7h0M503.3 295.8h0M507.4 305.5h0M514.3 322.2h0M530 306.8h0M501.4 282.4h0M508.3 305.4h0M506.4 299.6h0M508.4 305h0M535.6 292h0M503.5 281.5h0M496.4 290.8h0M510.4 305.8h0M503.9 290.8h0M536.5 283.4h0M537.2 285.1h0M528.5 308.1h0M528.7 308.7h0M509.9 310.4h0M505.2 296.7h0M532.3 299.2h0M510.8 310.9h0M534.5 289.2h0M534.6 296.6h0M535.6 290.7h0M509.7 311.5h0M503.5 281.2h0M535.3 278h0M503.5 279.7h0M509.7 314.4h0M499.2 283h0M518 324.3h0M508.2 304.9h0M537.6 286.9h0M523.8 320.2h0M534 294.8h0M532.4 302.3h0M512.9 319.8h0M506.7 302.2h0M503.7 293h0M536.2 282.8h0M535.8 286.6h0M503.8 296.1h0M525.4 317h0M507.1 303.5h0M532.6 303.9h0M525.4 319h0M529.8 312.1h0M533.1 296.9h0M509 305.8h0M528 310.1h0M505.4 292h0M505.9 301.7h0M517.2 322.9h0M505.3 302.3h0M520.8 322.9h0M503.5 279.2h0M511.3 316h0M505.3 297.3h0M505.2 296.9h0M510.4 304.3h0M533.5 304h0M533.8 296.3h0M537 287.1h0M512.6 314.7h0M501.2 283h0M535.9 282.8h0M501 283.8h0M513.7 317.8h0M503.9 290.5h0M507.8 306h0M510.9 307.4h0M534.6 294.5h0M535.9 286.3h0M505 301.9h0M534.7 296.8h0M535.3 278.1h0M535.7 287.8h0M501.4 295.8h0M503.6 281.4h0M532.2 307.1h0M536.6 289.6h0M501.1 284.3h0M512.2 310.4h0M503.5 280.5h0M536.2 284.5h0M532.3 298.7h0M501 283.2h0M508.5 304.6h0M505.5 300.5h0M503.8 287.4h0M529.4 310.3h0M537.4 283.8h0M502.8 283.8h0M529.2 306.5h0M503.2 286.1h0M528.3 309.9h0M535.4 287.3h0M510.7 315.8h0M528.2 312.7h0M505.6 297.4h0M505.6 297.7h0M502.7 283.3h0M501.9 285h0M536.2 286.3h0M535.5 286.6h0M504.5 291.2h0M503.2 287.2h0M529.9 311.4h0M503.4 290.5h0M506.1 296.8h0M501.1 283.2h0M505.3 296.5h0M535.3 280.1h0M503.5 280.9h0M531.3 298.4h0M511.4 309.9h0M528 311.4h0M532.5 301.9h0M537.5 283.5h0M502 286.5h0M528 313.7h0M530.3 307.4h0M504.1 295h0M502.4 285.1h0M503.5 278.5h0M502 284h0M532.1 301.6h0M510.4 311.7h0M531.1 310.7h0M509.6 305.1h0M510 308.9h0M535.7 287.7h0M503.8 293.8h0M534.3 294.8h0M535.1 299.1h0M533 293h0M536.9 292.1h0M510.6 308.3h0M503.8 288.6h0M504.8 298.6h0M534 296.4h0M535.3 278.5h0M529.5 308.7h0M537.1 281.9h0M536.4 290.4h0M502.5 288.3h0M534.4 277.8h0M531 302.7h0M534.2 300.6h0M533.9 302.7h0M508.9 310h0M505.9 303h0M537.3 283.9h0M504.9 303.3h0M505.1 294.5h0M507.5 303h0M521.9 321.1h0M538 286.8h0M503.8 289.3h0M506.7 303.5h0M504.6 288.7h0M503.5 283.8h0M503.5 280.2h0M535.3 278.6h0M533.2 301.6h0M503.4 291.3h0M514.7 318.7h0M517 321.9h0M530.3 303.3h0M532 301h0M537.1 289.5h0M510.3 310.5h0M504.6 289.2h0M535 290.9h0M535.9 283.6h0M505.6 299.7h0M535.3 278.6h0M536.3 288.1h0M512.7 313.4h0M536.4 292.9h0M502.4 293.9h0M535.6 289.9h0M504.3 300.1h0M504.8 293.9h0M507.2 303.1h0M535.3 278.7h0M535.3 280.2h0M503.5 280h0M530.2 299h0M504.2 294.7h0M503.5 288.6h0M535.3 279.1h0M504 285.7h0M500.4 284.5h0M502.7 289.9h0M535.1 300h0M537.3 285.8h0M533.2 301.4h0M507.5 306.9h0M530.2 307.8h0M531.3 303.1h0M504.8 293.1h0M502.3 283.6h0M535.9 283.5h0M514.2 316.5h0M532.8 299.8h0M530.5 299.5h0M512.8 313.6h0M503.3 286h0M508.3 307.4h0M526.9 316.4h0M501.9 285.4h0M504.5 294.6h0M535.4 288h0M514.5 320.6h0M537.5 284.5h0M503.5 281.7h0M535.3 280h0M502 286.3h0M502.3 289.7h0M525.5 316.2h0M547.3 300.8h0M528.2 314.4h0M531.5 302.3h0M508.2 305.1h0M522.7 319.8h0M515.9 319.5h0M535.3 280.6h0M530.7 309.3h0M505.2 302.1h0M535.8 289.4h0M509.4 307.8h0M535.3 281.3h0M532.9 301.3h0M518.2 324.5h0M519.4 325.4h0M519.7 322.9h0M519.2 325.9h0M518.5 325.3h0M518.2 323.8h0M519.3 323.9h0M518.5 323.3h0M519 325.2h0M519.3 325.7h0M519.7 325.5h0M519.6 324.8h0M518.6 325.2h0M519 325.3h0M519.6 325.3h0M518 319h0M519 321.9h0M520 323.9h0M519.3 325.6h0M519.1 323.9h0M519 321h0M519 325.7h0M519 323.9h0M520.5 325.3h0M519.8 324.5h0M519.7 325.6h0M520.6 325.8h0M519 322.3h0M519.3 325.4h0M519.1 324.8h0M519 324.8h0M519 324.7h0M519.3 323.2h0M519.4 324.1h0M519.7 322.5h0M519.1 324.5h0M518.9 325.7h0M518.8 323.9h0M519.1 322.5h0M519 324.2h0M520.2 321.3h0M519.6 324.6h0M520.1 321.2h0M519.4 322.6h0M518.5 324.8h0M518.9 325.6h0M518.6 321.7h0M520.4 318.3h0M519 325.7h0M519.3 323.6h0M519.5 321.1h0M519.5 322.4h0M519.1 325.1h0M518 325.8h0M520.1 324.6h0M518.9 324.1h0M519.7 320h0M519.4 325h0M519 325.5h0M518.8 325.7h0M533.6 248.1h0M533.4 272.8h0M534.4 232.6h0M505.1 237.2h0M534.5 242h0M504.2 244.7h0M534.9 268.5h0M504 274.8h0M534.4 274.4h0M503.7 232.5h0M505.4 259.2h0M503.7 270.5h0M505.1 204.8h0M535.2 210h0M534.2 206h0M504 201.6h0M534.3 216h0M533.6 207.1h0M503.6 210.4h0M534.2 240.7h0M504.2 242h0M535.3 268h0M534.1 239h0M534.4 237h0M505.2 276.5h0M533.7 219.8h0M535 276.9h0M535.2 241.9h0M504 222.5h0M535.1 277.6h0M504.5 275.8h0M503.6 214.7h0M535.2 245.4h0M503.6 200.7h0M533.4 211.7h0M532.5 247.8h0M504.4 233.5h0M503.6 280.8h0M533.2 238.2h0M533.4 199.9h0M534.7 281.7h0M504 260.2h0M504.4 277.3h0M532.2 278.6h0M533.5 216.9h0M503.6 235.7h0M505.3 259.4h0M533.1 211.3h0M535 255h0M503.9 218.1h0M504.8 278.6h0M504.1 207h0M504.3 249.3h0M534.5 224.1h0M505.4 268.3h0M533.4 246.1h0M503.6 210.2h0M535.1 270.3h0M504.5 202.1h0M504.5 215.2h0M503.6 236.9h0M503.7 216.7h0M532.8 200h0M504.1 219.7h0M503.6 227.3h0M504.4 258.7h0M503.7 204.9h0M535 244.6h0M534.1 219.8h0M531.9 277h0M530.5 244.2h0M534.4 263.5h0M504.1 261.8h0M504.4 266.3h0M534.8 257.9h0M535.2 203.7h0M534 216h0M534.6 233.2h0M504.9 229.2h0M534.9 253.8h0M503.5 238.4h0M505.3 257.9h0M533.8 244.6h0M505.2 240h0M534.8 271h0M534.9 198.8h0M532.9 265h0M533.4 255.1h0M534.4 261.3h0M506.3 240.9h0M504.6 214.4h0M534.6 216.7h0M506.6 272.2h0M504.9 212.7h0M535.1 256h0M503.7 216.9h0M533.5 265.6h0M506.1 247.4h0M534.9 267.4h0M504.6 256.6h0M534.9 253h0M534.8 220.3h0M535.3 235h0M505.4 237.3h0M503.7 222.3h0M504.5 257.9h0M534.3 204.9h0M504 228.7h0M531.1 240.4h0M504.8 257.4h0M503.7 209.7h0M531.9 263.2h0M533.6 212.9h0M534.8 238.7h0M503.7 231.6h0M503.8 206.1h0M535.2 257.6h0M534.8 241.5h0M503.8 273.1h0M506.4 236.9h0M533.5 219.8h0M534.4 271.2h0M534.4 219.7h0M533.9 255.6h0M533.5 258.9h0M506.1 222.4h0M505.3 222.4h0M533.8 273.6h0M533.2 217.8h0M504.8 267.6h0M532.7 203.7h0M503.8 270.7h0M504 220.4h0M533.7 262.8h0M504 236.5h0M504 232.9h0M534.1 241.7h0M535.2 241.8h0M503.9 207.5h0M532.4 244.6h0M505 228.8h0M534.8 261.3h0M534 265.9h0M504.4 201.1h0M533.7 257.1h0M535 222.9h0M505 259.6h0M505.4 225.6h0M534.2 203.8h0M534.8 264.5h0M505.4 277.5h0M534.7 203.6h0M504.5 237.7h0M504.5 232.3h0M532.9 218.6h0M504 211.9h0M512.1 227.8h0M505.1 255h0M503.9 213.7h0M534.6 227.3h0M534.8 258.9h0M504.3 271.2h0M535.2 229.8h0M504.9 235.1h0M506.5 246.7h0M503.8 259.1h0M503.7 219.8h0M534.9 200.7h0M507.8 256.9h0M535.1 242h0M504.2 201.6h0M532.3 238.4h0M534.6 208.4h0M503.9 258.9h0M503.9 251.6h0M503.9 243.9h0M503.9 262.9h0M535.1 272.6h0M504.2 207.1h0M504.1 265.1h0M535.1 251.1h0M504.8 267.5h0M504.1 206.2h0M506.1 214h0M535.2 250.5h0M507 265.4h0M504.8 262.2h0M503.9 276.8h0M506.5 254.4h0M534.9 227.1h0M504.3 258h0M534 245.3h0M503.7 209.6h0M504.9 236.1h0M535.1 233.5h0M532.4 266.8h0M534.5 261.4h0M533.7 253.8h0M535.1 258.9h0M534.7 227.8h0M533.2 257h0M533.3 247.8h0M504.6 238.7h0M535.2 279.5h0M533.9 235h0M503.7 206.9h0M504.4 244.2h0M534.3 251.4h0M503.7 212.8h0M503.9 264.1h0M504 280.9h0M505.5 228.8h0M504.1 244.5h0M533 257.5h0M504.2 252.9h0M530.6 253.8h0M534.2 237.7h0M504.2 238.4h0M535.1 231.9h0M504.7 241.7h0M534.9 216.5h0M535.1 205.4h0M504 208.3h0M535.2 246.2h0M504.1 198.9h0M503.8 207.2h0M534.8 250.2h0M534.6 252.5h0M534.8 213.8h0M535.2 228.6h0M534.3 266.8h0M503.7 205.7h0M505.9 262.1h0M505.2 256.4h0M534.4 209.9h0M503.9 243.2h0M504.2 227.4h0M535 251h0M504 257.8h0M535.1 242.9h0M503.7 203.4h0M503.6 249h0M506.6 256.7h0M506 272.7h0M503.7 236.4h0M506.6 244.3h0M533.8 201.6h0M534.8 200.9h0M534.6 205.3h0M503.8 209.6h0M505.2 218.2h0M503.8 219.2h0M506.9 273.6h0M503.7 255.2h0M535.2 237h0M533 210.7h0M529.9 201.5h0M505.4 209.6h0M533.7 261.5h0M534.8 234.6h0M520.4 257.1h0M518.2 221.2h0M519.5 206.6h0M515.5 188.5h0M521.1 236.7h0M515.4 192.5h0M524.7 201h0M520.2 243.6h0M525.1 192.9h0M519.8 208.4h0M522.9 204.6h0M515.6 194.7h0M526.1 171.4h0M518.9 235.9h0M526.1 182.7h0M521.1 233.5h0M521 232.4h0M523.6 212h0M520.4 236.2h0M524.6 200.6h0M528.2 166.5h0M520.4 256.6h0M520.4 247.2h0M520.8 250.4h0M527.9 167.8h0M519.5 223.7h0M524.4 200.5h0M514.6 186.9h0M522.8 206.2h0M523.4 214.9h0M518.5 232.2h0M523.3 206.6h0M520.1 250.5h0M522.4 215.9h0M516.5 199.5h0M514.3 184h0M524 192.1h0M521.7 203.2h0M524 210.5h0M522.2 214.6h0M515.4 191h0M522.6 226.3h0M517.5 216.8h0M525 191.9h0M517.3 214.9h0M520.4 247.1h0M516.3 202.3h0M520.2 253.7h0M521.5 232.2h0M521.8 235.3h0M521.2 240.3h0M515.9 182.7h0M519.1 238.1h0M519.1 223.9h0M521 237.7h0M516.8 211.3h0M520.4 246.3h0M524 209.5h0M513.4 166.1h0M523.8 208.9h0M520.5 252.4h0M523.3 217.2h0M516.3 199.2h0M521 242.5h0M523.3 213.4h0M520.4 261.1h0M514.2 178.9h0M521.4 223.8h0M517.7 197.8h0M521 246.3h0M523.7 208.5h0M519 233.4h0M523.6 195.2h0M520.7 243.4h0M516 193h0M519.7 229.8h0M526.3 178.8h0M528 168.5h0M519.2 230.5h0M520.2 230.8h0M517.6 216.2h0M516.5 208.5h0M515.4 192.2h0M524.5 202.8h0M520.4 256.4h0M523.7 213.5h0M521.5 232.3h0M521.3 242.7h0M520.4 256.1h0M517.2 204h0M520.6 217.9h0M518.1 225h0M515.2 189.6h0M524 205h0M520.4 251.8h0M527.4 173.7h0M523.9 200.6h0M513.4 169.6h0M526 186.7h0M524.2 200.2h0M520.4 258h0M522.4 227.8h0M514.6 168.6h0M514.3 178.2h0M514.8 187.9h0M520.4 242.4h0M521.8 223.4h0M518.1 219.3h0M520.4 235.6h0M524.1 200.3h0M524.5 204h0M517.6 219.2h0M520.8 247.5h0M521.6 230.3h0M526 177.4h0M519.5 225.9h0M520.4 259.8h0M524.5 203.6h0M519.7 244.6h0M524 208.2h0M521.6 207.6h0M520.4 248.6h0M516.8 209.5h0M526.7 171.7h0M522.8 209.9h0M517.8 224h0M523.8 204.7h0M521.6 237.1h0M517.1 207.8h0M520.3 238.5h0M523.6 205.7h0M519.9 247.6h0M520.4 260.9h0M520.8 249.1h0M514.8 185.1h0M517.4 201.7h0M526.8 174.6h0M523.2 211h0M520.9 222.5h0M522.1 230.6h0M513.6 166.1h0M526.4 182h0M516.6 206.9h0M517.6 208.6h0M514.9 187.1h0M513.6 173h0M521.8 235.9h0M523.4 213.3h0M527.7 169h0M528.3 165h0M522 228.1h0M513.4 168.3h0M520.4 255.2h0M522.1 202.4h0M520.4 241.5h0M520.4 254.7h0M515.6 194.4h0M520.4 256.4h0M524.3 204.8h0M524.2 204.7h0M532.5 156.7h0M534.3 134.1h0M509.5 189.8h0M507.8 197.7h0M511.6 189h0M530.2 202.8h0M509 158.6h0M529 207.1h0M531.7 190.1h0M504.8 142.2h0M534.1 151.6h0M508.8 167.6h0M533.5 131.1h0M531.4 199.8h0M527.3 205h0M534.9 117.7h0M505 178.5h0M531.2 172.7h0M534.3 191.1h0M505.8 148.6h0M510.6 203.6h0M532.7 201.5h0M527.1 199.9h0M508.1 169.9h0M503.9 190.4h0M506 202.9h0M533.5 180.6h0M508.8 205.8h0M531.3 162.9h0M528.8 204.5h0M534.7 160.5h0M533 163.2h0M533.7 178h0M533.1 159.7h0M512.7 201h0M534.9 192.8h0M534.2 142.5h0M511.3 192.4h0M533 200.5h0M510 204h0M512.1 198.5h0M503.7 85.9h0M532.3 196.9h0M513.6 200.4h0M529.2 175.2h0M508.5 182.6h0M529.5 200.8h0M505.3 203h0M511 189.4h0M529.7 199.7h0M513.4 194.8h0M505.7 176.5h0M504.4 166.4h0M503.9 149.3h0M532.4 161.2h0M534.8 93.4h0M532.9 187.2h0M533 160.5h0M510 172.6h0M530.7 163.6h0M504.1 174.7h0M533.6 204.1h0M533.5 204.1h0M503.9 116.8h0M510.7 191.7h0M505.7 154.1h0M534.2 202.7h0M532.2 146.8h0M505.7 169.5h0M533.3 165.4h0M535.2 195.2h0M532.8 173.4h0M534.8 85.4h0M534.3 163.9h0M504.6 188.2h0M509.2 197.5h0M531.6 199h0M513.1 200.5h0M532.7 201.8h0M535 100.5h0M528.5 187h0M510.3 162.9h0M509.9 206.6h0M532 154.8h0M503.6 203.1h0M508 197.4h0M512.1 180.4h0M510.7 188.3h0M527.4 195.6h0M535.2 172h0M532.4 206h0M533 203.5h0M503.7 205.8h0M528.6 206.6h0M527.9 203h0M510.7 194.1h0M534.8 156.7h0M513.1 199.5h0M532.9 178.4h0M503.7 196.6h0M527.5 201.3h0M530.4 166.5h0M527.7 203.7h0M533.5 143.4h0M507.7 148.3h0M529.6 174.7h0M506.2 179.1h0M508 188.9h0M529.4 199.8h0M513.6 203.3h0M528.7 186.3h0M510.5 195.4h0M510.1 192.5h0M504.1 205.1h0M505.1 175.2h0M532.7 158.3h0M510 204.1h0M532.2 171.5h0M529.3 182h0M504.9 136.5h0M527 202.4h0M534.5 197h0M504 117.7h0M532.8 170h0M512.5 198.2h0M534 202.9h0M531.7 164.1h0M510 178.4h0M511.2 201.5h0M505.1 203.1h0M531.9 177.8h0M508.6 175h0M529.6 181.7h0M533.5 135.4h0M504.8 150.6h0M505.9 160.4h0M534.2 126.3h0M534.1 207h0M531 185.6h0M533.4 198h0M504.7 166.4h0M503.6 101.4h0M503.8 119.9h0M504 202.7h0M505.3 162.3h0M508.9 183.2h0M506.5 205.1h0M534.1 201.7h0M535.2 173.1h0M511 176.3h0M527.4 195.8h0M532.1 200.3h0M533.8 150h0M509.3 155.8h0M534.9 204.6h0M532 187.9h0M510.1 199h0M531.2 197.8h0M510 183.8h0M503.7 178.8h0M535.2 110.8h0M508.1 168.9h0M511.1 196.9h0M529.4 204.2h0M532.6 191.1h0M531.8 207.1h0M510.8 204.1h0M534 198.1h0M511.8 193.8h0M532.6 206.7h0M505.7 201.5h0M509.1 192.4h0M532.8 169.5h0M511.9 193.1h0M529.7 206h0M505.1 171.7h0M504.1 184h0M526.7 206.7h0M506.2 171.8h0M530.7 197.8h0M533 193.9h0M529.4 184.7h0M534.1 138.9h0M532.6 207h0M528.5 195.1h0M505.3 175h0M528.9 205.8h0M532.4 200.9h0M507.7 203.9h0M508 205.8h0M508.3 156.9h0M531.6 205.2h0M534.5 206.3h0M534.2 172.4h0M505.2 161.3h0M506.6 198.9h0M510.3 187.2h0M530 185.1h0M505.5 188.7h0M509 191.4h0M532.2 151.8h0M534.2 200.9h0M508 194.5h0M535.2 112.1h0M528.1 190.5h0M510.2 175.4h0M531.6 154.1h0M507.7 184.9h0M505.7 191.4h0M510.8 197.5h0M533 137.4h0M532.5 190.1h0M533.7 199.7h0M505.3 204.5h0M535.2 204.5h0M534.4 127.5h0M529.7 207.1h0M532.5 182.2h0M512 189.3h0M533.6 204.2h0M533 155.2h0M529.6 183.5h0M510.4 184.6h0M532.7 187.4h0M511.5 200.6h0M533.4 160.8h0M529 191.4h0M531.8 191.1h0M508.9 151h0M533.2 131.6h0M533.8 177.9h0M508.1 159.2h0M533.1 202.9h0M528.9 196.5h0M532.8 162.9h0M534.9 202.4h0M528.5 181.4h0M534.5 176h0M505.3 187.8h0M504.1 167.6h0M509.2 156.3h0M504.9 195.6h0M528 203.4h0M509.5 202.6h0M527.3 206.8h0M535.3 111.1h0M529.5 198.4h0M503.8 142.8h0M532.2 199.8h0M533.2 150.4h0M530.6 188.6h0M506.5 202.6h0M534.1 141.6h0M534.8 194.8h0M504.2 200.7h0M506.4 189.9h0M504.6 165.5h0M506.6 195.9h0M512.7 205.8h0M508 201.9h0M511.9 183.4h0M528.6 186.9h0M504.6 139.1h0M504.5 131.7h0M513.2 196.9h0M532.2 153.2h0M510.7 186.3h0M505.5 149.7h0M534.5 187.3h0M506.1 81.1h0M504.7 82.6h0M506.7 114.7h0M533.3 132.8h0M534.5 129.3h0M530.9 143.9h0M525.1 148.5h0M489.6 298.9h0M484.5 302.5h0M493 293.5h0M545.5 296h0M548 288.5h0" stroke="#000" stroke-width="2.8" stroke-linecap="round" fill="none"/>
<path d="M496.3 229.6h0M490.9 205.7h0M503.4 162.7h0M503.4 180.3h0M501.3 251.2h0M494.9 241.5h0M502.5 238.5h0M501.3 228.4h0M500.2 195.3h0M485.4 139.4h0M491.3 231.7h0M499.9 178.2h0M501.1 173.2h0M501.1 246.1h0M481 195.5h0M502.9 259.5h0M503.2 279.2h0M498.3 259.4h0M501.8 241.6h0M499.4 255.3h0M503.2 240.3h0M500.4 197.7h0M501.6 274.8h0M501 230.1h0M497.7 244.1h0M497.4 246h0M496 273.2h0M492.7 269.4h0M501.6 217.4h0M484.7 141.2h0M502.5 203.8h0M492.2 277.5h0M503.1 217.8h0M502.6 250h0M500.9 203.5h0M503 276.8h0M487.8 273.6h0M476.3 166.8h0M501.9 269.7h0M497.1 270.4h0M502.8 218.6h0M503.2 244.2h0M501.8 196.6h0M503.3 219.2h0M492.8 254.3h0M503.3 240.4h0M488 245.5h0M497.4 257.4h0M499.1 278.5h0M501.3 264.7h0M502.7 258.1h0M489.3 239.2h0M497.8 214h0M495.8 212h0M488.7 247.3h0M502.5 227.8h0M498.6 243.3h0M502.6 255.3h0M503.5 273.9h0M499.2 224.8h0M495 252.8h0M494 261.2h0M498.3 232.5h0M497.4 249.5h0M503.4 213.6h0M493.2 167.3h0M498 197.3h0M490.5 234.5h0M502.4 273.5h0M500.3 268.4h0M500.1 277.8h0M496.6 275.4h0M502 176.4h0M500.5 152.4h0M503 270.9h0M503.5 277h0M501.5 212.4h0M501.5 199.9h0M502.8 274.4h0M485.3 189.3h0M492.8 158h0M497 197.6h0M496.6 223.3h0M500.6 166.5h0M502 244.4h0M502.9 242.3h0M494.8 200.6h0M486.5 172h0M492.6 262h0M498.4 268.5h0M490.5 244.5h0M494.3 243h0M503.4 222.3h0M501.4 270.4h0M489.2 245.7h0M501.6 267.9h0M492.4 243.4h0M497.9 279.7h0M499.2 225.4h0M501.9 236.8h0M490.6 243h0M492.7 240.1h0M503.3 201.6h0M494.6 256.5h0M502 259.7h0M499.1 262.2h0M503.4 260.4h0M490.7 252.2h0M501.8 273.8h0M500.1 226.4h0M490.6 266.8h0M501.5 233.6h0M502.1 240h0M499.6 226.6h0M500 228.2h0M503.5 184.4h0M496.2 261.4h0M493.6 219.3h0M490.2 277.4h0M483.5 228.4h0M503 147.5h0M480.8 247.3h0M489.9 228.6h0M500.3 260.6h0M498.9 242.5h0M491.6 276.6h0M500.9 271h0M502.1 211.2h0M492.6 278.3h0M501 208.2h0M488.5 256.5h0M503.3 267.9h0M494.2 226.2h0M500.8 186.3h0M502.8 206h0M488.4 195.1h0M501.7 271.8h0M493.2 154.8h0M503.4 278.5h0M486.7 238.8h0M503.5 174.3h0M501 234.2h0M465.4 250.4h0M492.8 251.7h0M494.5 263.6h0M502.8 270.9h0M480.6 196.4h0M488.3 250.8h0M491.8 224.9h0M492.9 250.8h0M502.2 263.7h0M503.4 150.1h0M494.9 239.1h0M489.4 262.1h0M499.2 219.1h0M500.8 245.9h0M497.9 237.8h0M498.8 190.9h0M499.2 260.9h0M500.7 259.1h0M487.6 220.9h0M503.2 278h0M491.5 157.5h0M503.3 249.8h0M495.3 233.6h0M503.5 232.4h0M489.5 247.8h0M500.8 244h0M503.3 224.7h0M500.9 274.9h0M498.8 254.2h0M496.6 248.7h0M496.1 268.1h0M494.5 235.1h0M501.9 268.7h0M503.4 179.8h0M502.6 233.1h0M495.8 280.4h0M500 250.9h0M503.5 162.8h0M493.4 226h0M502.4 208h0M489.8 204.6h0M497.2 226.7h0M482.5 202.5h0M486.8 215.1h0M500.2 251.8h0M495.4 179.9h0M502.7 249.6h0M503.2 250.9h0M500.2 206.6h0M490 268.9h0M500.2 234h0M501 266h0M500.6 270.2h0M503.2 269.9h0M497.9 208.8h0M494.7 273.8h0M497.5 217.8h0M501.9 192.9h0M500.3 275.9h0M490.2 232.9h0M502.6 210.9h0M502 236.4h0M503.5 239.9h0M501.5 269.4h0M498.7 248.4h0M499.2 262.6h0M483.4 245.9h0M489.6 228.6h0M498.4 209.9h0M496.8 271.2h0M503.4 272.5h0M491.4 254h0M497.3 265.4h0M454.5 50.8h0M495.7 47h0M496.6 77.7h0M497.9 100.6h0M484.7 116.8h0M462.6 144.9h0M468.9 165.3h0M456.2 181.1h0M463.8 202.3h0M473.2 207.9h0M460.4 257.7h0M470.2 272.6h0M500.6 122h0M493 127h0M489.2 141.2h0M476.5 231.5h0M479.3 233.2h0M487.5 268h0M489.6 271h0" stroke="#00ff00" stroke-width="2.8" stroke-linecap="round" fill="none"/>
<path d="M543.9 228.8h0M543 275.1h0M552 220.7h0M536.9 274h0M548.1 170.8h0M549.3 278.8h0M546.3 260.4h0M540 276.5h0M540.6 256.1h0M535.3 238.9h0M537.4 219.2h0M539.1 271.9h0M543.7 254.2h0M536.2 231.8h0M537.9 276.7h0M566 238.6h0M536.5 207.3h0M537.1 266.2h0M537.3 182.1h0M548.7 266.1h0M547.5 279h0M549.8 266.9h0M535.3 246.4h0M536.8 263.2h0M548.3 183.1h0M537.2 251h0M543.6 269.3h0M535.4 251.3h0M536.4 275.5h0M539.2 246.1h0M536.6 234.2h0M540.3 243.7h0M550.6 260.8h0M535.4 209.3h0M549 215h0M536.1 248.5h0M537.1 264.4h0M539.7 270.1h0M537.9 243.6h0M536.9 238.2h0M559.1 221.2h0M535.6 196.1h0M555.2 238.7h0M548.9 248.1h0M535.3 154h0M540.4 257.2h0M535.4 265.6h0M554 257.3h0M537.6 245.2h0M536 280.1h0M542.9 270.2h0M539.3 235.1h0M548.6 181.8h0M540.8 224.1h0M541.4 250.8h0M540.2 165.5h0M553.9 275h0M552.1 218.1h0M535.4 237.9h0M535.5 247.1h0M537.4 146.2h0M535.8 213.8h0M536.5 228.4h0M544.6 229.7h0M536.9 204.9h0M555.5 272.6h0M553.6 253.7h0M541.7 191.8h0M556.3 274.9h0M536.5 257.6h0M539.8 244h0M548 242.2h0M540.9 266h0M535.8 259.9h0M540.7 227.9h0M535.4 273.6h0M536.6 225h0M536.3 257.5h0M539.7 269.4h0M540.8 239.5h0M547.5 246.1h0M558.2 257.7h0M537.6 222.7h0M535.6 216.5h0M538.3 253.8h0M550 267.7h0M538.5 161.6h0M539 251h0M543.1 227.5h0M537.6 275.2h0M548.1 247.4h0M550.8 248.7h0M535.5 226.4h0M550.4 264.4h0M553.2 244.9h0M536.2 227.8h0M544.2 228.9h0M539.6 227.7h0M535.6 260.2h0M537.5 163.4h0M535.4 264.7h0M537.6 244.2h0M539.3 233.1h0M544.1 194.3h0M545.1 262.2h0M535.7 206.4h0M546.8 251.9h0M536.8 279.9h0M551 247.1h0M537.8 247.3h0M537.4 226.5h0M538.1 252.7h0M536.5 269.7h0M543.5 257.4h0M538.4 246.8h0M536.1 257.2h0M537.2 189.6h0M544.1 216h0M553 248.6h0M550.5 262.6h0M544.1 266.8h0M551.7 243.5h0M535.6 249.3h0M548.5 229.4h0M547.1 236.6h0M539 273.6h0M538.3 271.4h0M535.5 229.3h0M555.1 224.2h0M542.3 180h0M541.8 274.6h0M538.8 266.8h0M536.8 174.2h0M547.8 243h0M542.2 190.5h0M551.2 247.8h0M536.2 245.6h0M551.9 263.5h0M556.1 243.2h0M535.8 268.6h0M536.6 198.7h0M554 271.3h0M545 248.4h0M557.5 201.5h0M547.7 204.6h0M551.9 210.7h0M548.8 272h0M539.4 181.2h0M535.8 259.1h0M539.8 242.1h0M540.7 219.6h0M556.1 250.7h0M556.8 233.5h0M536.1 237h0M536.5 271.4h0M545.8 160.9h0M536.3 171.2h0M553.6 204.6h0M551.9 203.7h0M536.8 182.3h0M550.7 198.7h0M546.3 265.8h0M545.2 270.9h0M536.1 246.5h0M536.4 236.6h0M562.9 251h0M536.2 267h0M553.4 250.9h0M536.2 187.2h0M550.3 221.2h0M536.4 264.8h0M548.6 194.7h0M552.2 277.4h0M537.9 254.8h0M535.6 161.4h0M535.8 210.9h0M536.8 270.3h0M546.5 207.9h0M542 252h0M544.9 245.9h0M535.5 240h0M544.6 180.9h0M542 260.1h0M548.2 268.8h0M544.5 246.9h0M535.6 235.8h0M545.7 245.3h0M544.2 160h0M548.8 228.7h0M537.7 202.6h0M536.7 239.5h0M536.6 216.9h0M545.9 214.2h0M539.2 231.6h0M538.3 260.5h0M536 265h0M541.6 256h0M543.6 224.2h0M574.8 196.3h0M544.9 268.4h0M568.4 238.1h0M545.3 205.3h0M539.4 277.6h0M535.4 275.2h0M538.2 254.7h0M545 255.8h0M540.3 250.8h0M538.9 262.6h0M538.9 224.2h0M538.1 234.8h0M544 259.3h0M553.4 236.4h0M537 205.9h0M545.9 272.2h0M536.6 270.7h0M544.5 278.2h0M552.6 261.7h0M547.9 168.7h0M546.9 222.6h0M541.7 172.3h0M554.6 245h0M540.4 249.9h0M542.7 277.9h0M542 233.8h0M535.4 242.9h0M552.6 256.8h0M550.9 215.9h0M560.5 233.4h0M544.9 267h0M547.5 245.1h0M537.3 218.3h0M547.1 227h0M548.2 243.4h0M564.2 265.4h0M556.2 191.9h0M538.5 253.9h0M547.6 266.5h0M541.2 274.8h0M546.4 153.4h0M539.3 183.9h0M548.7 258.3h0M543 220.4h0M538.9 262h0M545.7 277.9h0M539.1 199.7h0M538.9 233.9h0M549.3 222.5h0M541 253.2h0M535.9 265.9h0M597.4 183.9h0M545.1 280.2h0M540.8 265.9h0M544.1 214.4h0M535.5 242.1h0M549.4 229.8h0M541.2 250.2h0M559.3 198.7h0M541.8 157.1h0M538.8 188.8h0M535.9 265.3h0M535.4 196.4h0M537.7 214.9h0M537.2 238.3h0M535.9 249.7h0M541.9 251.1h0M555.6 184.6h0M540.2 226.9h0M547.8 234.2h0M559.6 275.1h0M536.1 190.1h0M544.7 158.5h0M535.7 192.8h0M542.7 257.1h0M536 268.4h0M552.8 242.1h0M548.6 252.5h0M536.8 267.1h0M544.6 177h0M548.8 265.4h0M539.6 221h0M546.2 265h0M535.9 192.3h0M548.8 218.9h0M555.2 179.2h0M537.1 266.8h0M535.4 183h0M552.5 206.6h0M551.5 210.9h0M537.4 152.1h0M559.9 207.2h0M535.6 223.1h0M543.2 233.7h0M549.2 252.6h0M536 243.5h0M539.3 255.8h0M538.1 204.8h0M535.8 233.2h0M552.4 181.4h0M536.9 223h0M535.8 202.6h0M535.8 265.7h0M535.5 219.9h0M537.2 259.2h0M536.2 265.8h0M550.8 268.6h0M542.2 246.7h0M551.5 260.6h0M543.5 248.8h0M549.4 148h0M542.1 253.9h0M536.5 243h0M538.1 252.5h0M555.2 234.9h0M535.4 210.4h0M535.5 276.5h0M547.7 221.3h0M544.3 255.9h0M537.1 268.8h0M535.3 264.4h0M540.8 243.1h0M545 252h0M535.8 232.5h0M537.3 202.2h0M535.4 274.5h0M535.4 227.5h0M536.4 223.5h0M547.2 230.7h0M549.8 180.6h0M554.3 228.7h0M536.8 245.9h0M559.1 174.2h0M546.7 262.1h0M536.5 197.9h0M559.8 163.4h0M536 243.5h0M540.9 208.6h0M541.6 237.8h0M539.8 249.1h0M537.6 214.9h0M536.2 275.3h0M536.9 242.7h0M536.7 250.9h0M536.4 219.4h0M536.4 223.6h0M535.7 268.9h0M540.5 212.5h0M539.8 201.1h0M536.2 210.8h0M543.3 253.2h0M536.3 205.4h0M536 229h0M545.4 279.6h0M541.7 221.9h0M538.7 255.7h0M540.7 267.5h0M546.2 267h0M539.3 231.2h0M547.7 266.2h0M537 259.9h0M551.1 244.2h0M541.4 271.5h0M540.2 226.4h0M537.6 281h0M564 212.1h0M536.1 246.7h0M543.2 255.1h0M537.8 198.7h0M542.3 258.4h0M535.3 244.3h0M536 215h0M551.5 265.2h0M535.6 268.3h0M536.4 236.2h0M556.9 250.3h0M547.3 268.1h0M537.7 278.7h0M538.5 226.6h0M537.6 228.9h0M543.5 239.9h0M544.4 254.7h0M535.4 248.7h0M565.2 235.7h0M536.2 254.3h0M537.5 210.4h0M548.3 255.5h0M540.3 192.2h0M536.6 260h0M555.3 206.5h0M552.6 233.5h0M541.6 271.3h0M545.5 64.9h0M580.4 69.1h0M582.6 100.2h0M595.3 140.6h0M568.9 142.8h0M573.2 141.5h0M587.2 178.1h0M569.8 178.1h0M576.6 200.2h0M607.7 224.9h0M537.7 100.7h0M539.7 111.8h0M548.5 129.9h0M547.9 134.2h0M547.6 144.5h0M551.4 149.7h0M570.1 178.3h0M567.4 189.1h0" stroke="#ff0000" stroke-width="2.8" stroke-linecap="round" fill="none"/>
</g>
<path d="M503.5 339.6V33.3" stroke="#000" stroke-width="2.6" stroke-dasharray="2.6 7.7 10.3 7.7" stroke-dashoffset="-0.8" fill="none"/>
<path d="M535.3 339.6V33.3" stroke="#000" stroke-width="2.6" stroke-dasharray="2.6 7.7 10.3 7.7" stroke-dashoffset="-0.8" fill="none"/>
<path d="M379.8 281.1H659" stroke="#000" stroke-width="2.6" stroke-dasharray="2.6 7.7 10.3 7.7" fill="none"/>
<path d="M377.9 325.9H379.8" stroke="#333" stroke-width="1"/>
<text x="377.1" y="330.4" text-anchor="end" font-size="12.7" fill="#4d4d4d">0</text>
<path d="M377.9 258.1H379.8" stroke="#333" stroke-width="1"/>
<text x="377.1" y="262.6" text-anchor="end" font-size="12.7" fill="#4d4d4d">2</text>
<path d="M377.9 190.3H379.8" stroke="#333" stroke-width="1"/>
<text x="377.1" y="194.8" text-anchor="end" font-size="12.7" fill="#4d4d4d">4</text>
<path d="M377.9 122.5H379.8" stroke="#333" stroke-width="1"/>
<text x="377.1" y="127" text-anchor="end" font-size="12.7" fill="#4d4d4d">6</text>
<path d="M377.9 54.7H379.8" stroke="#333" stroke-width="1"/>
<text x="377.1" y="59.2" text-anchor="end" font-size="12.7" fill="#4d4d4d">8</text>
<path d="M440.1 339.6V341.5" stroke="#333" stroke-width="1"/>
<text x="440.4" y="351.8" text-anchor="end" font-size="12.7" fill="#4d4d4d">−5</text>
<path d="M519.4 339.6V341.5" stroke="#333" stroke-width="1"/>
<text x="519.7" y="351.8" text-anchor="end" font-size="12.7" fill="#4d4d4d">0</text>
<path d="M598.7 339.6V341.5" stroke="#333" stroke-width="1"/>
<text x="599" y="351.8" text-anchor="end" font-size="12.7" fill="#4d4d4d">5</text>
<text x="519.4" y="365.6" text-anchor="middle" font-size="13" textLength="43" lengthAdjust="spacingAndGlyphs">log2FC</text>
<text transform="translate(366.1 186.8) rotate(-90)" text-anchor="middle" font-size="13" textLength="85.5" lengthAdjust="spacingAndGlyphs">−log10P.Value</text>
<text x="518.6" y="10.9" text-anchor="middle" font-size="14.3" font-weight="bold" textLength="73.2" lengthAdjust="spacingAndGlyphs">GSE58062</text>
<g>
<rect x="24.20" y="417.30" width="24.09" height="13.47" fill="#00a000"/>
<rect x="47.29" y="417.30" width="24.09" height="13.47" fill="#008700"/>
<rect x="70.38" y="417.30" width="24.09" height="13.47" fill="#00c800"/>
<rect x="93.47" y="417.30" width="24.09" height="13.47" fill="#00a500"/>
<rect x="116.56" y="417.30" width="24.09" height="13.47" fill="#008700"/>
<rect x="139.65" y="417.30" width="24.09" height="13.47" fill="#af0000"/>
<rect x="162.74" y="417.30" width="24.09" height="13.47" fill="#f00000"/>
<rect x="185.83" y="417.30" width="24.09" height="13.47" fill="#cd0000"/>
<rect x="208.92" y="417.30" width="23.09" height="13.47" fill="#b40000"/>
<rect x="24.20" y="429.78" width="24.09" height="13.47" fill="#009600"/>
<rect x="47.29" y="429.78" width="24.09" height="13.47" fill="#00a500"/>
<rect x="70.38" y="429.78" width="24.09" height="13.47" fill="#009600"/>
<rect x="93.47" y="429.78" width="24.09" height="13.47" fill="#00a500"/>
<rect x="116.56" y="429.78" width="24.09" height="13.47" fill="#009b00"/>
<rect x="139.65" y="429.78" width="24.09" height="13.47" fill="#a00000"/>
<rect x="162.74" y="429.78" width="24.09" height="13.47" fill="#d70000"/>
<rect x="185.83" y="429.78" width="24.09" height="13.47" fill="#c80000"/>
<rect x="208.92" y="429.78" width="23.09" height="13.47" fill="#ff0000"/>
<rect x="24.20" y="442.25" width="24.09" height="13.47" fill="#00c300"/>
<rect x="47.29" y="442.25" width="24.09" height="13.47" fill="#009600"/>
<rect x="70.38" y="442.25" width="24.09" height="13.47" fill="#009600"/>
<rect x="93.47" y="442.25" width="24.09" height="13.47" fill="#00a500"/>
<rect x="116.56" y="442.25" width="24.09" height="13.47" fill="#009600"/>
<rect x="139.65" y="442.25" width="24.09" height="13.47" fill="#b90000"/>
<rect x="162.74" y="442.25" width="24.09" height="13.47" fill="#c30000"/>
<rect x="185.83" y="442.25" width="24.09" height="13.47" fill="#c80000"/>
<rect x="208.92" y="442.25" width="23.09" height="13.47" fill="#ff0000"/>
<rect x="24.20" y="454.73" width="24.09" height="13.47" fill="#a50000"/>
<rect x="47.29" y="454.73" width="24.09" height="13.47" fill="#8c0000"/>
<rect x="70.38" y="454.73" width="24.09" height="13.47" fill="#960000"/>
<rect x="93.47" y="454.73" width="24.09" height="13.47" fill="#cd0000"/>
<rect x="116.56" y="454.73" width="24.09" height="13.47" fill="#b90000"/>
<rect x="139.65" y="454.73" width="24.09" height="13.47" fill="#00a000"/>
<rect x="162.74" y="454.73" width="24.09" height="13.47" fill="#00c800"/>
<rect x="185.83" y="454.73" width="24.09" height="13.47" fill="#00d700"/>
<rect x="208.92" y="454.73" width="23.09" height="13.47" fill="#00e600"/>
<rect x="24.20" y="467.20" width="24.09" height="13.47" fill="#aa0000"/>
<rect x="47.29" y="467.20" width="24.09" height="13.47" fill="#8c0000"/>
<rect x="70.38" y="467.20" width="24.09" height="13.47" fill="#be0000"/>
<rect x="93.47" y="467.20" width="24.09" height="13.47" fill="#b90000"/>
<rect x="116.56" y="467.20" width="24.09" height="13.47" fill="#a50000"/>
<rect x="139.65" y="467.20" width="24.09" height="13.47" fill="#00c800"/>
<rect x="162.74" y="467.20" width="24.09" height="13.47" fill="#00be00"/>
<rect x="185.83" y="467.20" width="24.09" height="13.47" fill="#00d200"/>
<rect x="208.92" y="467.20" width="23.09" height="13.47" fill="#00e100"/>
<rect x="24.20" y="479.68" width="24.09" height="13.47" fill="#be0000"/>
<rect x="47.29" y="479.68" width="24.09" height="13.47" fill="#8c0000"/>
<rect x="70.38" y="479.68" width="24.09" height="13.47" fill="#af0000"/>
<rect x="93.47" y="479.68" width="24.09" height="13.47" fill="#b40000"/>
<rect x="116.56" y="479.68" width="24.09" height="13.47" fill="#af0000"/>
<rect x="139.65" y="479.68" width="24.09" height="13.47" fill="#00c800"/>
<rect x="162.74" y="479.68" width="24.09" height="13.47" fill="#00c800"/>
<rect x="185.83" y="479.68" width="24.09" height="13.47" fill="#00c300"/>
<rect x="208.92" y="479.68" width="23.09" height="13.47" fill="#00e100"/>
<rect x="24.20" y="492.15" width="24.09" height="13.47" fill="#b90000"/>
<rect x="47.29" y="492.15" width="24.09" height="13.47" fill="#a50000"/>
<rect x="70.38" y="492.15" width="24.09" height="13.47" fill="#b40000"/>
<rect x="93.47" y="492.15" width="24.09" height="13.47" fill="#780000"/>
<rect x="116.56" y="492.15" width="24.09" height="13.47" fill="#af0000"/>
<rect x="139.65" y="492.15" width="24.09" height="13.47" fill="#00aa00"/>
<rect x="162.74" y="492.15" width="24.09" height="13.47" fill="#00b900"/>
<rect x="185.83" y="492.15" width="24.09" height="13.47" fill="#00f000"/>
<rect x="208.92" y="492.15" width="23.09" height="13.47" fill="#00dc00"/>
<rect x="24.20" y="504.62" width="24.09" height="13.47" fill="#aa0000"/>
<rect x="47.29" y="504.62" width="24.09" height="13.47" fill="#a00000"/>
<rect x="70.38" y="504.62" width="24.09" height="13.47" fill="#af0000"/>
<rect x="93.47" y="504.62" width="24.09" height="13.47" fill="#910000"/>
<rect x="116.56" y="504.62" width="24.09" height="13.47" fill="#b90000"/>
<rect x="139.65" y="504.62" width="24.09" height="13.47" fill="#009b00"/>
<rect x="162.74" y="504.62" width="24.09" height="13.47" fill="#00b400"/>
<rect x="185.83" y="504.62" width="24.09" height="13.47" fill="#00f000"/>
<rect x="208.92" y="504.62" width="23.09" height="13.47" fill="#00d700"/>
<rect x="24.20" y="517.10" width="24.09" height="13.47" fill="#af0000"/>
<rect x="47.29" y="517.10" width="24.09" height="13.47" fill="#a50000"/>
<rect x="70.38" y="517.10" width="24.09" height="13.47" fill="#a00000"/>
<rect x="93.47" y="517.10" width="24.09" height="13.47" fill="#aa0000"/>
<rect x="116.56" y="517.10" width="24.09" height="13.47" fill="#aa0000"/>
<rect x="139.65" y="517.10" width="24.09" height="13.47" fill="#008c00"/>
<rect x="162.74" y="517.10" width="24.09" height="13.47" fill="#00fa00"/>
<rect x="185.83" y="517.10" width="24.09" height="13.47" fill="#00e100"/>
<rect x="208.92" y="517.10" width="23.09" height="13.47" fill="#00cd00"/>
<rect x="24.20" y="529.58" width="24.09" height="13.47" fill="#b40000"/>
<rect x="47.29" y="529.58" width="24.09" height="13.47" fill="#a00000"/>
<rect x="70.38" y="529.58" width="24.09" height="13.47" fill="#b90000"/>
<rect x="93.47" y="529.58" width="24.09" height="13.47" fill="#af0000"/>
<rect x="116.56" y="529.58" width="24.09" height="13.47" fill="#960000"/>
<rect x="139.65" y="529.58" width="24.09" height="13.47" fill="#009100"/>
<rect x="162.74" y="529.58" width="24.09" height="13.47" fill="#00d700"/>
<rect x="185.83" y="529.58" width="24.09" height="13.47" fill="#00e100"/>
<rect x="208.92" y="529.58" width="23.09" height="13.47" fill="#00d700"/>
<rect x="24.20" y="542.05" width="24.09" height="13.47" fill="#b90000"/>
<rect x="47.29" y="542.05" width="24.09" height="13.47" fill="#960000"/>
<rect x="70.38" y="542.05" width="24.09" height="13.47" fill="#b90000"/>
<rect x="93.47" y="542.05" width="24.09" height="13.47" fill="#af0000"/>
<rect x="116.56" y="542.05" width="24.09" height="13.47" fill="#b90000"/>
<rect x="139.65" y="542.05" width="24.09" height="13.47" fill="#00a000"/>
<rect x="162.74" y="542.05" width="24.09" height="13.47" fill="#00d700"/>
<rect x="185.83" y="542.05" width="24.09" height="13.47" fill="#00d700"/>
<rect x="208.92" y="542.05" width="23.09" height="13.47" fill="#00e100"/>
<rect x="24.20" y="554.52" width="24.09" height="13.47" fill="#b90000"/>
<rect x="47.29" y="554.52" width="24.09" height="13.47" fill="#a00000"/>
<rect x="70.38" y="554.52" width="24.09" height="13.47" fill="#b90000"/>
<rect x="93.47" y="554.52" width="24.09" height="13.47" fill="#a00000"/>
<rect x="116.56" y="554.52" width="24.09" height="13.47" fill="#b90000"/>
<rect x="139.65" y="554.52" width="24.09" height="13.47" fill="#008700"/>
<rect x="162.74" y="554.52" width="24.09" height="13.47" fill="#00d700"/>
<rect x="185.83" y="554.52" width="24.09" height="13.47" fill="#00e600"/>
<rect x="208.92" y="554.52" width="23.09" height="13.47" fill="#00e100"/>
<rect x="24.20" y="567.00" width="24.09" height="13.47" fill="#be0000"/>
<rect x="47.29" y="567.00" width="24.09" height="13.47" fill="#960000"/>
<rect x="70.38" y="567.00" width="24.09" height="13.47" fill="#b40000"/>
<rect x="93.47" y="567.00" width="24.09" height="13.47" fill="#b40000"/>
<rect x="116.56" y="567.00" width="24.09" height="13.47" fill="#aa0000"/>
<rect x="139.65" y="567.00" width="24.09" height="13.47" fill="#009100"/>
<rect x="162.74" y="567.00" width="24.09" height="13.47" fill="#00c800"/>
<rect x="185.83" y="567.00" width="24.09" height="13.47" fill="#00e600"/>
<rect x="208.92" y="567.00" width="23.09" height="13.47" fill="#00e100"/>
<rect x="24.20" y="579.48" width="24.09" height="13.47" fill="#b90000"/>
<rect x="47.29" y="579.48" width="24.09" height="13.47" fill="#a50000"/>
<rect x="70.38" y="579.48" width="24.09" height="13.47" fill="#780000"/>
<rect x="93.47" y="579.48" width="24.09" height="13.47" fill="#c80000"/>
<rect x="116.56" y="579.48" width="24.09" height="13.47" fill="#b90000"/>
<rect x="139.65" y="579.48" width="24.09" height="13.47" fill="#00d700"/>
<rect x="162.74" y="579.48" width="24.09" height="13.47" fill="#00c800"/>
<rect x="185.83" y="579.48" width="24.09" height="13.47" fill="#00cd00"/>
<rect x="208.92" y="579.48" width="23.09" height="13.47" fill="#00d700"/>
<rect x="24.20" y="591.95" width="24.09" height="13.47" fill="#af0000"/>
<rect x="47.29" y="591.95" width="24.09" height="13.47" fill="#820000"/>
<rect x="70.38" y="591.95" width="24.09" height="13.47" fill="#a50000"/>
<rect x="93.47" y="591.95" width="24.09" height="13.47" fill="#c30000"/>
<rect x="116.56" y="591.95" width="24.09" height="13.47" fill="#c30000"/>
<rect x="139.65" y="591.95" width="24.09" height="13.47" fill="#00d700"/>
<rect x="162.74" y="591.95" width="24.09" height="13.47" fill="#00f500"/>
<rect x="185.83" y="591.95" width="24.09" height="13.47" fill="#00cd00"/>
<rect x="208.92" y="591.95" width="23.09" height="13.47" fill="#00a500"/>
<rect x="24.20" y="604.42" width="24.09" height="13.47" fill="#d70000"/>
<rect x="47.29" y="604.42" width="24.09" height="13.47" fill="#b40000"/>
<rect x="70.38" y="604.42" width="24.09" height="13.47" fill="#b90000"/>
<rect x="93.47" y="604.42" width="24.09" height="13.47" fill="#9b0000"/>
<rect x="116.56" y="604.42" width="24.09" height="13.47" fill="#7d0000"/>
<rect x="139.65" y="604.42" width="24.09" height="13.47" fill="#00d200"/>
<rect x="162.74" y="604.42" width="24.09" height="13.47" fill="#00d700"/>
<rect x="185.83" y="604.42" width="24.09" height="13.47" fill="#00c800"/>
<rect x="208.92" y="604.42" width="23.09" height="13.47" fill="#00c800"/>
<rect x="24.20" y="616.90" width="24.09" height="13.47" fill="#d70000"/>
<rect x="47.29" y="616.90" width="24.09" height="13.47" fill="#a00000"/>
<rect x="70.38" y="616.90" width="24.09" height="13.47" fill="#b90000"/>
<rect x="93.47" y="616.90" width="24.09" height="13.47" fill="#870000"/>
<rect x="116.56" y="616.90" width="24.09" height="13.47" fill="#a50000"/>
<rect x="139.65" y="616.90" width="24.09" height="13.47" fill="#00d200"/>
<rect x="162.74" y="616.90" width="24.09" height="13.47" fill="#00d700"/>
<rect x="185.83" y="616.90" width="24.09" height="13.47" fill="#00dc00"/>
<rect x="208.92" y="616.90" width="23.09" height="13.47" fill="#00af00"/>
<rect x="24.20" y="629.38" width="24.09" height="13.47" fill="#be0000"/>
<rect x="47.29" y="629.38" width="24.09" height="13.47" fill="#a00000"/>
<rect x="70.38" y="629.38" width="24.09" height="13.47" fill="#be0000"/>
<rect x="93.47" y="629.38" width="24.09" height="13.47" fill="#7d0000"/>
<rect x="116.56" y="629.38" width="24.09" height="13.47" fill="#b40000"/>
<rect x="139.65" y="629.38" width="24.09" height="13.47" fill="#00be00"/>
<rect x="162.74" y="629.38" width="24.09" height="13.47" fill="#00e100"/>
<rect x="185.83" y="629.38" width="24.09" height="13.47" fill="#00c800"/>
<rect x="208.92" y="629.38" width="23.09" height="13.47" fill="#00c800"/>
<rect x="24.20" y="641.85" width="24.09" height="13.47" fill="#a50000"/>
<rect x="47.29" y="641.85" width="24.09" height="13.47" fill="#aa0000"/>
<rect x="70.38" y="641.85" width="24.09" height="13.47" fill="#b90000"/>
<rect x="93.47" y="641.85" width="24.09" height="13.47" fill="#9b0000"/>
<rect x="116.56" y="641.85" width="24.09" height="13.47" fill="#b40000"/>
<rect x="139.65" y="641.85" width="24.09" height="13.47" fill="#00a500"/>
<rect x="162.74" y="641.85" width="24.09" height="13.47" fill="#00fa00"/>
<rect x="185.83" y="641.85" width="24.09" height="13.47" fill="#00aa00"/>
<rect x="208.92" y="641.85" width="23.09" height="13.47" fill="#00d700"/>
<rect x="24.20" y="654.33" width="24.09" height="12.47" fill="#a50000"/>
<rect x="47.29" y="654.33" width="24.09" height="12.47" fill="#af0000"/>
<rect x="70.38" y="654.33" width="24.09" height="12.47" fill="#b90000"/>
<rect x="93.47" y="654.33" width="24.09" height="12.47" fill="#c80000"/>
<rect x="116.56" y="654.33" width="24.09" height="12.47" fill="#7d0000"/>
<rect x="139.65" y="654.33" width="24.09" height="12.47" fill="#00c800"/>
<rect x="162.74" y="654.33" width="24.09" height="12.47" fill="#00c800"/>
<rect x="185.83" y="654.33" width="24.09" height="12.47" fill="#00af00"/>
<rect x="208.92" y="654.33" width="23.09" height="12.47" fill="#00d200"/>
</g>
<text x="233.6" y="427" font-size="9.7">Fam129b</text>
<text x="233.6" y="439.5" font-size="9.7">Cdkn1c</text>
<text x="233.6" y="452" font-size="9.7">Nqo1</text>
<text x="233.6" y="464.4" font-size="9.7">Pabpc1</text>
<text x="233.6" y="476.9" font-size="9.7">Gjb2</text>
<text x="233.6" y="489.4" font-size="9.7">Elovl2</text>
<text x="233.6" y="501.9" font-size="9.7">Serpinc1</text>
<text x="233.6" y="514.3" font-size="9.7">C8a</text>
<text x="233.6" y="526.8" font-size="9.7">Rbp4</text>
<text x="233.6" y="539.3" font-size="9.7">2300009A05Rik</text>
<text x="233.6" y="551.8" font-size="9.7">Pah</text>
<text x="233.6" y="564.2" font-size="9.7">1100001G20Rik</text>
<text x="233.6" y="576.7" font-size="9.7">Baat</text>
<text x="233.6" y="589.2" font-size="9.7">Dio1</text>
<text x="233.6" y="601.7" font-size="9.7">2210412D01Rik</text>
<text x="233.6" y="614.1" font-size="9.7">Dld</text>
<text x="233.6" y="626.6" font-size="9.7">BC026782</text>
<text x="233.6" y="639.1" font-size="9.7">Kmo</text>
<text x="233.6" y="651.6" font-size="9.7">Apon</text>
<text x="233.6" y="664" font-size="9.7">Nudt7</text>
<text transform="translate(31.8 668.6) rotate(90)" font-size="11.0">GSM802773</text>
<text transform="translate(54.9 668.6) rotate(90)" font-size="11.0">GSM802776</text>
<text transform="translate(78 668.6) rotate(90)" font-size="11.0">GSM802777</text>
<text transform="translate(101.1 668.6) rotate(90)" font-size="11.0">GSM802774</text>
<text transform="translate(124.2 668.6) rotate(90)" font-size="11.0">GSM802775</text>
<text transform="translate(147.3 668.6) rotate(90)" font-size="11.0">GSM802788</text>
<text transform="translate(170.3 668.6) rotate(90)" font-size="11.0">GSM802790</text>
<text transform="translate(193.4 668.6) rotate(90)" font-size="11.0">GSM802789</text>
<text transform="translate(216.5 668.6) rotate(90)" font-size="11.0">GSM802791</text>
<rect x="308.2" y="417.2" width="4.7" height="68.1" fill="url(#lg)"/>
<text transform="translate(314.9 429.5) scale(1.08 1)" font-size="8.7">1</text>
<text transform="translate(314.9 442) scale(1.08 1)" font-size="8.7">0.5</text>
<text transform="translate(314.9 454.8) scale(1.08 1)" font-size="8.7">0</text>
<text transform="translate(314.9 467.5) scale(1.08 1)" font-size="8.7">−0.5</text>
<text transform="translate(314.9 480.6) scale(1.08 1)" font-size="8.7">−1</text>
<path d="M58.5 417.5V416.5H81.5V417.5M35.5 417.5V415.5H70.5V416.5M105.5 417.5V415.5H128.5V417.5M53.5 415.5V414.5H116.5V415.5M197.5 417.5V415.5H220.5V417.5M174.5 417.5V415.5H208.5V415.5M151.5 417.5V413.5H191.5V415.5M84.5 414.5V393.5H171.5V413.5" stroke="#000" stroke-width="1.15" fill="none" stroke-linejoin="miter"/>
<path d="M24.5 436.5H23.5V448.5H24.5M24.5 423.5H21.5V442.5H23.5M24.5 648.5H22.5V660.5H24.5M24.5 635.5H22.5V654.5H22.5M24.5 623.5H22.5V644.5H22.5M24.5 610.5H22.5V634.5H22.5M24.5 598.5H22.5V625.5H22.5M24.5 585.5H22.5V616.5H22.5M24.5 573.5H22.5V605.5H22.5M24.5 560.5H22.5V594.5H22.5M24.5 548.5H21.5V582.5H22.5M24.5 535.5H21.5V570.5H21.5M24.5 523.5H21.5V558.5H21.5M24.5 510.5H21.5V546.5H21.5M24.5 498.5H21.5V533.5H21.5M24.5 485.5H21.5V521.5H21.5M24.5 473.5H21.5V508.5H21.5M24.5 460.5H21.5V496.5H21.5M21.5 484.5V555.5M21.5 432.5H1.5V555.5H21.5" stroke="#000" stroke-width="1.15" fill="none" stroke-linejoin="miter"/>
<g>
<rect x="375.80" y="416.90" width="27.00" height="13.15" fill="#960000"/>
<rect x="401.80" y="416.90" width="27.00" height="13.15" fill="#820000"/>
<rect x="427.80" y="416.90" width="27.00" height="13.15" fill="#af0000"/>
<rect x="453.80" y="416.90" width="27.00" height="13.15" fill="#c30000"/>
<rect x="479.80" y="416.90" width="27.00" height="13.15" fill="#00aa00"/>
<rect x="505.80" y="416.90" width="27.00" height="13.15" fill="#00c300"/>
<rect x="531.80" y="416.90" width="27.00" height="13.15" fill="#00c300"/>
<rect x="557.80" y="416.90" width="26.00" height="13.15" fill="#005500"/>
<rect x="375.80" y="429.05" width="27.00" height="13.15" fill="#960000"/>
<rect x="401.80" y="429.05" width="27.00" height="13.15" fill="#8c0000"/>
<rect x="427.80" y="429.05" width="27.00" height="13.15" fill="#b90000"/>
<rect x="453.80" y="429.05" width="27.00" height="13.15" fill="#a50000"/>
<rect x="479.80" y="429.05" width="27.00" height="13.15" fill="#00d700"/>
<rect x="505.80" y="429.05" width="27.00" height="13.15" fill="#00e100"/>
<rect x="531.80" y="429.05" width="27.00" height="13.15" fill="#006900"/>
<rect x="557.80" y="429.05" width="26.00" height="13.15" fill="#006e00"/>
<rect x="375.80" y="441.20" width="27.00" height="13.15" fill="#dc0000"/>
<rect x="401.80" y="441.20" width="27.00" height="13.15" fill="#960000"/>
<rect x="427.80" y="441.20" width="27.00" height="13.15" fill="#a00000"/>
<rect x="453.80" y="441.20" width="27.00" height="13.15" fill="#910000"/>
<rect x="479.80" y="441.20" width="27.00" height="13.15" fill="#009600"/>
<rect x="505.80" y="441.20" width="27.00" height="13.15" fill="#00b900"/>
<rect x="531.80" y="441.20" width="27.00" height="13.15" fill="#009100"/>
<rect x="557.80" y="441.20" width="26.00" height="13.15" fill="#00af00"/>
<rect x="375.80" y="453.35" width="27.00" height="13.15" fill="#b90000"/>
<rect x="401.80" y="453.35" width="27.00" height="13.15" fill="#c80000"/>
<rect x="427.80" y="453.35" width="27.00" height="13.15" fill="#6e0000"/>
<rect x="453.80" y="453.35" width="27.00" height="13.15" fill="#910000"/>
<rect x="479.80" y="453.35" width="27.00" height="13.15" fill="#003200"/>
<rect x="505.80" y="453.35" width="27.00" height="13.15" fill="#009100"/>
<rect x="531.80" y="453.35" width="27.00" height="13.15" fill="#00cd00"/>
<rect x="557.80" y="453.35" width="26.00" height="13.15" fill="#00e100"/>
<rect x="375.80" y="465.50" width="27.00" height="13.15" fill="#d20000"/>
<rect x="401.80" y="465.50" width="27.00" height="13.15" fill="#be0000"/>
<rect x="427.80" y="465.50" width="27.00" height="13.15" fill="#6e0000"/>
<rect x="453.80" y="465.50" width="27.00" height="13.15" fill="#960000"/>
<rect x="479.80" y="465.50" width="27.00" height="13.15" fill="#004100"/>
<rect x="505.80" y="465.50" width="27.00" height="13.15" fill="#00c800"/>
<rect x="531.80" y="465.50" width="27.00" height="13.15" fill="#008c00"/>
<rect x="557.80" y="465.50" width="26.00" height="13.15" fill="#00e100"/>
<rect x="375.80" y="477.65" width="27.00" height="13.15" fill="#aa0000"/>
<rect x="401.80" y="477.65" width="27.00" height="13.15" fill="#a00000"/>
<rect x="427.80" y="477.65" width="27.00" height="13.15" fill="#9b0000"/>
<rect x="453.80" y="477.65" width="27.00" height="13.15" fill="#a50000"/>
<rect x="479.80" y="477.65" width="27.00" height="13.15" fill="#00aa00"/>
<rect x="505.80" y="477.65" width="27.00" height="13.15" fill="#001900"/>
<rect x="531.80" y="477.65" width="27.00" height="13.15" fill="#00d200"/>
<rect x="557.80" y="477.65" width="26.00" height="13.15" fill="#00dc00"/>
<rect x="375.80" y="489.80" width="27.00" height="13.15" fill="#910000"/>
<rect x="401.80" y="489.80" width="27.00" height="13.15" fill="#aa0000"/>
<rect x="427.80" y="489.80" width="27.00" height="13.15" fill="#aa0000"/>
<rect x="453.80" y="489.80" width="27.00" height="13.15" fill="#af0000"/>
<rect x="479.80" y="489.80" width="27.00" height="13.15" fill="#00a000"/>
<rect x="505.80" y="489.80" width="27.00" height="13.15" fill="#00a500"/>
<rect x="531.80" y="489.80" width="27.00" height="13.15" fill="#00b900"/>
<rect x="557.80" y="489.80" width="26.00" height="13.15" fill="#00c800"/>
<rect x="375.80" y="501.95" width="27.00" height="13.15" fill="#550000"/>
<rect x="401.80" y="501.95" width="27.00" height="13.15" fill="#9b0000"/>
<rect x="427.80" y="501.95" width="27.00" height="13.15" fill="#cd0000"/>
<rect x="453.80" y="501.95" width="27.00" height="13.15" fill="#dc0000"/>
<rect x="479.80" y="501.95" width="27.00" height="13.15" fill="#00aa00"/>
<rect x="505.80" y="501.95" width="27.00" height="13.15" fill="#009100"/>
<rect x="531.80" y="501.95" width="27.00" height="13.15" fill="#00a000"/>
<rect x="557.80" y="501.95" width="26.00" height="13.15" fill="#00d700"/>
<rect x="375.80" y="514.10" width="27.00" height="13.15" fill="#00b900"/>
<rect x="401.80" y="514.10" width="27.00" height="13.15" fill="#00a000"/>
<rect x="427.80" y="514.10" width="27.00" height="13.15" fill="#00b400"/>
<rect x="453.80" y="514.10" width="27.00" height="13.15" fill="#008200"/>
<rect x="479.80" y="514.10" width="27.00" height="13.15" fill="#e10000"/>
<rect x="505.80" y="514.10" width="27.00" height="13.15" fill="#dc0000"/>
<rect x="531.80" y="514.10" width="27.00" height="13.15" fill="#820000"/>
<rect x="557.80" y="514.10" width="26.00" height="13.15" fill="#370000"/>
<rect x="375.80" y="526.25" width="27.00" height="13.15" fill="#00c800"/>
<rect x="401.80" y="526.25" width="27.00" height="13.15" fill="#00dc00"/>
<rect x="427.80" y="526.25" width="27.00" height="13.15" fill="#003c00"/>
<rect x="453.80" y="526.25" width="27.00" height="13.15" fill="#00a000"/>
<rect x="479.80" y="526.25" width="27.00" height="13.15" fill="#d20000"/>
<rect x="505.80" y="526.25" width="27.00" height="13.15" fill="#a00000"/>
<rect x="531.80" y="526.25" width="27.00" height="13.15" fill="#4b0000"/>
<rect x="557.80" y="526.25" width="26.00" height="13.15" fill="#c80000"/>
<rect x="375.80" y="538.40" width="27.00" height="13.15" fill="#00a500"/>
<rect x="401.80" y="538.40" width="27.00" height="13.15" fill="#00af00"/>
<rect x="427.80" y="538.40" width="27.00" height="13.15" fill="#009600"/>
<rect x="453.80" y="538.40" width="27.00" height="13.15" fill="#00a500"/>
<rect x="479.80" y="538.40" width="27.00" height="13.15" fill="#c80000"/>
<rect x="505.80" y="538.40" width="27.00" height="13.15" fill="#320000"/>
<rect x="531.80" y="538.40" width="27.00" height="13.15" fill="#aa0000"/>
<rect x="557.80" y="538.40" width="26.00" height="13.15" fill="#d70000"/>
<rect x="375.80" y="550.55" width="27.00" height="13.15" fill="#003700"/>
<rect x="401.80" y="550.55" width="27.00" height="13.15" fill="#00a500"/>
<rect x="427.80" y="550.55" width="27.00" height="13.15" fill="#00e100"/>
<rect x="453.80" y="550.55" width="27.00" height="13.15" fill="#00af00"/>
<rect x="479.80" y="550.55" width="27.00" height="13.15" fill="#640000"/>
<rect x="505.80" y="550.55" width="27.00" height="13.15" fill="#7d0000"/>
<rect x="531.80" y="550.55" width="27.00" height="13.15" fill="#cd0000"/>
<rect x="557.80" y="550.55" width="26.00" height="13.15" fill="#d70000"/>
<rect x="375.80" y="562.70" width="27.00" height="13.15" fill="#008700"/>
<rect x="401.80" y="562.70" width="27.00" height="13.15" fill="#00a000"/>
<rect x="427.80" y="562.70" width="27.00" height="13.15" fill="#00af00"/>
<rect x="453.80" y="562.70" width="27.00" height="13.15" fill="#00af00"/>
<rect x="479.80" y="562.70" width="27.00" height="13.15" fill="#690000"/>
<rect x="505.80" y="562.70" width="27.00" height="13.15" fill="#960000"/>
<rect x="531.80" y="562.70" width="27.00" height="13.15" fill="#af0000"/>
<rect x="557.80" y="562.70" width="26.00" height="13.15" fill="#eb0000"/>
<rect x="375.80" y="574.85" width="27.00" height="13.15" fill="#00a000"/>
<rect x="401.80" y="574.85" width="27.00" height="13.15" fill="#00a500"/>
<rect x="427.80" y="574.85" width="27.00" height="13.15" fill="#00af00"/>
<rect x="453.80" y="574.85" width="27.00" height="13.15" fill="#00a500"/>
<rect x="479.80" y="574.85" width="27.00" height="13.15" fill="#550000"/>
<rect x="505.80" y="574.85" width="27.00" height="13.15" fill="#d70000"/>
<rect x="531.80" y="574.85" width="27.00" height="13.15" fill="#a50000"/>
<rect x="557.80" y="574.85" width="26.00" height="13.15" fill="#be0000"/>
<rect x="375.80" y="587.00" width="27.00" height="13.15" fill="#00cd00"/>
<rect x="401.80" y="587.00" width="27.00" height="13.15" fill="#00b400"/>
<rect x="427.80" y="587.00" width="27.00" height="13.15" fill="#005a00"/>
<rect x="453.80" y="587.00" width="27.00" height="13.15" fill="#00af00"/>
<rect x="479.80" y="587.00" width="27.00" height="13.15" fill="#960000"/>
<rect x="505.80" y="587.00" width="27.00" height="13.15" fill="#960000"/>
<rect x="531.80" y="587.00" width="27.00" height="13.15" fill="#aa0000"/>
<rect x="557.80" y="587.00" width="26.00" height="13.15" fill="#cd0000"/>
<rect x="375.80" y="599.15" width="27.00" height="13.15" fill="#00b900"/>
<rect x="401.80" y="599.15" width="27.00" height="13.15" fill="#00be00"/>
<rect x="427.80" y="599.15" width="27.00" height="13.15" fill="#007800"/>
<rect x="453.80" y="599.15" width="27.00" height="13.15" fill="#00aa00"/>
<rect x="479.80" y="599.15" width="27.00" height="13.15" fill="#a50000"/>
<rect x="505.80" y="599.15" width="27.00" height="13.15" fill="#a50000"/>
<rect x="531.80" y="599.15" width="27.00" height="13.15" fill="#910000"/>
<rect x="557.80" y="599.15" width="26.00" height="13.15" fill="#960000"/>
<rect x="375.80" y="611.30" width="27.00" height="13.15" fill="#00aa00"/>
<rect x="401.80" y="611.30" width="27.00" height="13.15" fill="#00af00"/>
<rect x="427.80" y="611.30" width="27.00" height="13.15" fill="#00b900"/>
<rect x="453.80" y="611.30" width="27.00" height="13.15" fill="#00b400"/>
<rect x="479.80" y="611.30" width="27.00" height="13.15" fill="#c30000"/>
<rect x="505.80" y="611.30" width="27.00" height="13.15" fill="#a50000"/>
<rect x="531.80" y="611.30" width="27.00" height="13.15" fill="#8c0000"/>
<rect x="557.80" y="611.30" width="26.00" height="13.15" fill="#b90000"/>
<rect x="375.80" y="623.45" width="27.00" height="13.15" fill="#008700"/>
<rect x="401.80" y="623.45" width="27.00" height="13.15" fill="#00aa00"/>
<rect x="427.80" y="623.45" width="27.00" height="13.15" fill="#00b400"/>
<rect x="453.80" y="623.45" width="27.00" height="13.15" fill="#00b400"/>
<rect x="479.80" y="623.45" width="27.00" height="13.15" fill="#7d0000"/>
<rect x="505.80" y="623.45" width="27.00" height="13.15" fill="#f50000"/>
<rect x="531.80" y="623.45" width="27.00" height="13.15" fill="#460000"/>
<rect x="557.80" y="623.45" width="26.00" height="13.15" fill="#b40000"/>
<rect x="375.80" y="635.60" width="27.00" height="13.15" fill="#00b400"/>
<rect x="401.80" y="635.60" width="27.00" height="13.15" fill="#007800"/>
<rect x="427.80" y="635.60" width="27.00" height="13.15" fill="#008c00"/>
<rect x="453.80" y="635.60" width="27.00" height="13.15" fill="#00d700"/>
<rect x="479.80" y="635.60" width="27.00" height="13.15" fill="#9b0000"/>
<rect x="505.80" y="635.60" width="27.00" height="13.15" fill="#a00000"/>
<rect x="531.80" y="635.60" width="27.00" height="13.15" fill="#460000"/>
<rect x="557.80" y="635.60" width="26.00" height="13.15" fill="#f00000"/>
<rect x="375.80" y="647.75" width="27.00" height="12.15" fill="#00aa00"/>
<rect x="401.80" y="647.75" width="27.00" height="12.15" fill="#007800"/>
<rect x="427.80" y="647.75" width="27.00" height="12.15" fill="#009b00"/>
<rect x="453.80" y="647.75" width="27.00" height="12.15" fill="#00d700"/>
<rect x="479.80" y="647.75" width="27.00" height="12.15" fill="#8c0000"/>
<rect x="505.80" y="647.75" width="27.00" height="12.15" fill="#8c0000"/>
<rect x="531.80" y="647.75" width="27.00" height="12.15" fill="#550000"/>
<rect x="557.80" y="647.75" width="26.00" height="12.15" fill="#ff0000"/>
</g>
<text x="585.8" y="426.4" font-size="9.7">Abcc3</text>
<text x="585.8" y="438.6" font-size="9.7">382044</text>
<text x="585.8" y="450.7" font-size="9.7">Raet1b</text>
<text x="585.8" y="462.9" font-size="9.7">Serpina7</text>
<text x="585.8" y="475" font-size="9.7">Adora1</text>
<text x="585.8" y="487.2" font-size="9.7">Hsd3b2</text>
<text x="585.8" y="499.3" font-size="9.7">Agxt2l1</text>
<text x="585.8" y="511.5" font-size="9.7">Abca8a</text>
<text x="585.8" y="523.6" font-size="9.7">Dio1</text>
<text x="585.8" y="535.8" font-size="9.7">Acnat2</text>
<text x="585.8" y="547.9" font-size="9.7">Akr1c18</text>
<text x="585.8" y="560.1" font-size="9.7">Slc22a7</text>
<text x="585.8" y="572.2" font-size="9.7">Sspo</text>
<text x="585.8" y="584.4" font-size="9.7">BC026374</text>
<text x="585.8" y="596.5" font-size="9.7">Cyp17a1</text>
<text x="585.8" y="608.7" font-size="9.7">9030619P08Rik</text>
<text x="585.8" y="620.8" font-size="9.7">AK129341</text>
<text x="585.8" y="633" font-size="9.7">Crybb3</text>
<text x="585.8" y="645.1" font-size="9.7">C1qc</text>
<text x="585.8" y="657.3" font-size="9.7">Ly86</text>
<text transform="translate(385 662) rotate(90)" font-size="10.7">GSM1400262</text>
<text transform="translate(411 662) rotate(90)" font-size="10.7">GSM1400264</text>
<text transform="translate(437 662) rotate(90)" font-size="10.7">GSM1400263</text>
<text transform="translate(463 662) rotate(90)" font-size="10.7">GSM1400265</text>
<text transform="translate(489 662) rotate(90)" font-size="10.7">GSM1400267</text>
<text transform="translate(515 662) rotate(90)" font-size="10.7">GSM1400268</text>
<text transform="translate(541 662) rotate(90)" font-size="10.7">GSM1400266</text>
<text transform="translate(567 662) rotate(90)" font-size="10.7">GSM1400269</text>
<rect x="659.2" y="416.8" width="4.8" height="67.9" fill="url(#lg)"/>
<text transform="translate(666.1 431) scale(1.14 1)" font-size="8.5">1</text>
<text transform="translate(666.1 442.8) scale(1.14 1)" font-size="8.5">0.5</text>
<text transform="translate(666.1 454.2) scale(1.14 1)" font-size="8.5">0</text>
<text transform="translate(666.1 466) scale(1.14 1)" font-size="8.5">−0.5</text>
<text transform="translate(666.1 477.4) scale(1.14 1)" font-size="8.5">−1</text>
<path d="M388.5 416.5V414.5H414.5V416.5M440.5 416.5V414.5H466.5V416.5M401.5 414.5V412.5H453.5V414.5M492.5 416.5V412.5H518.5V416.5M544.5 416.5V411.5H570.5V416.5M505.5 412.5V410.5H557.5V411.5M427.5 412.5V392.5H531.5V410.5" stroke="#000" stroke-width="1.15" fill="none" stroke-linejoin="miter"/>
<path d="M375.5 422.5H372.5V435.5H375.5M375.5 459.5H373.5V471.5H375.5M375.5 447.5H371.5V465.5H373.5M375.5 495.5H373.5V508.5H375.5M375.5 483.5H371.5V501.5H373.5M371.5 456.5H369.5V492.5H371.5M372.5 429.5H369.5V474.5H369.5M375.5 520.5H370.5V532.5H375.5M375.5 544.5H370.5V556.5H375.5M375.5 568.5H373.5V580.5H375.5M373.5 574.5H371.5V593.5H375.5M375.5 605.5H373.5V617.5H375.5M375.5 641.5H374.5V653.5H375.5M375.5 629.5H371.5V647.5H374.5M373.5 611.5H370.5V638.5H371.5M371.5 583.5H369.5V624.5H370.5M370.5 550.5H369.5V604.5H369.5M370.5 526.5H368.5V577.5H369.5M369.5 451.5H351.5V554.5H368.5" stroke="#000" stroke-width="1.15" fill="none" stroke-linejoin="miter"/>
</svg></body></html>
